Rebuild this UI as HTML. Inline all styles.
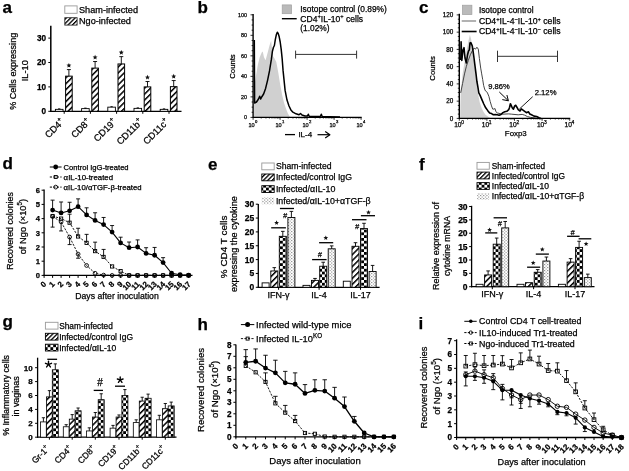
<!DOCTYPE html>
<html><head><meta charset="utf-8"><style>
html,body{margin:0;padding:0;background:#fff;}
svg{display:block;font-family:"Liberation Sans", sans-serif;filter:grayscale(1);}
text{stroke:#000;stroke-width:0.25px;}
</style></head><body>
<svg width="629" height="471" viewBox="0 0 629 471">
<defs>
<pattern id="hatch" patternUnits="userSpaceOnUse" width="4.2" height="4.2" patternTransform="rotate(45)">
<rect width="4.2" height="4.2" fill="#fff"/><rect x="0" y="0" width="1.5" height="4.2" fill="#000"/></pattern>
<pattern id="hatchL" patternUnits="userSpaceOnUse" width="3.1" height="3.1" patternTransform="rotate(45)">
<rect width="3.1" height="3.1" fill="#fff"/><rect x="0" y="0" width="1.3" height="3.1" fill="#000"/></pattern>
<pattern id="check" patternUnits="userSpaceOnUse" width="5.6" height="5.6">
<rect width="5.6" height="5.6" fill="#fff"/><rect width="2.8" height="2.8" fill="#000"/><rect x="2.8" y="2.8" width="2.8" height="2.8" fill="#000"/></pattern>
<pattern id="dots" patternUnits="userSpaceOnUse" width="3.2" height="3.0">
<rect width="3.2" height="3.0" fill="#fff"/><rect x="0" y="0" width="1.1" height="1.1" fill="#8a8a8a"/><rect x="1.6" y="1.5" width="1.1" height="1.1" fill="#8a8a8a"/></pattern>
</defs>
<rect width="629" height="471" fill="#fff"/>
<text x="2.60" y="12.50" font-size="17" text-anchor="start" font-weight="bold">a</text>
<rect x="64.80" y="5.90" width="12.30" height="7.40" fill="#fff" stroke="#999" stroke-width="0.9"/>
<text x="79.00" y="12.60" font-size="8.8" text-anchor="start" textLength="59.00" lengthAdjust="spacingAndGlyphs">Sham-infected</text>
<rect x="64.80" y="17.70" width="12.30" height="7.40" fill="url(#hatchL)" stroke="#333" stroke-width="0.9"/>
<text x="79.00" y="24.30" font-size="8.8" text-anchor="start" textLength="51.80" lengthAdjust="spacingAndGlyphs">Ngo-infected</text>
<line x1="50.80" y1="25.80" x2="50.80" y2="111.90" stroke="#000" stroke-width="1.5"/>
<line x1="50.20" y1="111.30" x2="181.50" y2="111.30" stroke="#000" stroke-width="1.3"/>
<line x1="48.30" y1="111.30" x2="50.80" y2="111.30" stroke="#000" stroke-width="1"/>
<text x="46.00" y="114.20" font-size="8.2" text-anchor="end" font-weight="bold">0</text>
<line x1="48.30" y1="86.90" x2="50.80" y2="86.90" stroke="#000" stroke-width="1"/>
<text x="46.00" y="89.80" font-size="8.2" text-anchor="end" font-weight="bold">10</text>
<line x1="48.30" y1="62.50" x2="50.80" y2="62.50" stroke="#000" stroke-width="1"/>
<text x="46.00" y="65.40" font-size="8.2" text-anchor="end" font-weight="bold">20</text>
<line x1="48.30" y1="38.10" x2="50.80" y2="38.10" stroke="#000" stroke-width="1"/>
<text x="46.00" y="41.00" font-size="8.2" text-anchor="end" font-weight="bold">30</text>
<line x1="64.20" y1="111.30" x2="64.20" y2="113.80" stroke="#000" stroke-width="1"/>
<rect x="55.40" y="109.35" width="7.60" height="1.95" fill="#fff" stroke="#000" stroke-width="0.9"/>
<line x1="59.20" y1="109.35" x2="59.20" y2="108.75" stroke="#000" stroke-width="0.7"/>
<line x1="58.00" y1="108.75" x2="60.40" y2="108.75" stroke="#000" stroke-width="0.7"/>
<rect x="65.60" y="76.16" width="6.60" height="35.14" fill="url(#hatch)" stroke="#000" stroke-width="1"/>
<line x1="68.90" y1="76.16" x2="68.90" y2="69.58" stroke="#000" stroke-width="0.9"/>
<line x1="66.90" y1="69.58" x2="70.90" y2="69.58" stroke="#000" stroke-width="0.9"/>
<polygon points="68.90,62.88 69.59,64.53 71.37,64.67 70.01,65.84 70.43,67.58 68.90,66.65 67.37,67.58 67.79,65.84 66.43,64.67 68.21,64.53" fill="#111" stroke="none" stroke-width="0"/>
<text x="64.70" y="122.50" font-size="9.4" text-anchor="end" transform="rotate(-45 64.70 122.50)">CD4<tspan font-size="6.5" dy="-4">+</tspan></text>
<line x1="90.40" y1="111.30" x2="90.40" y2="113.80" stroke="#000" stroke-width="1"/>
<rect x="81.60" y="108.62" width="7.60" height="2.68" fill="#fff" stroke="#000" stroke-width="0.9"/>
<line x1="85.40" y1="108.62" x2="85.40" y2="108.02" stroke="#000" stroke-width="0.7"/>
<line x1="84.20" y1="108.02" x2="86.60" y2="108.02" stroke="#000" stroke-width="0.7"/>
<rect x="91.80" y="68.11" width="6.60" height="43.19" fill="url(#hatch)" stroke="#000" stroke-width="1"/>
<line x1="95.10" y1="68.11" x2="95.10" y2="61.52" stroke="#000" stroke-width="0.9"/>
<line x1="93.10" y1="61.52" x2="97.10" y2="61.52" stroke="#000" stroke-width="0.9"/>
<polygon points="95.10,54.82 95.79,56.48 97.57,56.62 96.21,57.79 96.63,59.53 95.10,58.59 93.57,59.53 93.99,57.79 92.63,56.62 94.41,56.48" fill="#111" stroke="none" stroke-width="0"/>
<text x="90.90" y="122.50" font-size="9.4" text-anchor="end" transform="rotate(-45 90.90 122.50)">CD8<tspan font-size="6.5" dy="-4">+</tspan></text>
<line x1="116.60" y1="111.30" x2="116.60" y2="113.80" stroke="#000" stroke-width="1"/>
<rect x="107.80" y="107.15" width="7.60" height="4.15" fill="#fff" stroke="#000" stroke-width="0.9"/>
<line x1="111.60" y1="107.15" x2="111.60" y2="106.55" stroke="#000" stroke-width="0.7"/>
<line x1="110.40" y1="106.55" x2="112.80" y2="106.55" stroke="#000" stroke-width="0.7"/>
<rect x="118.00" y="63.96" width="6.60" height="47.34" fill="url(#hatch)" stroke="#000" stroke-width="1"/>
<line x1="121.30" y1="63.96" x2="121.30" y2="56.64" stroke="#000" stroke-width="0.9"/>
<line x1="119.30" y1="56.64" x2="123.30" y2="56.64" stroke="#000" stroke-width="0.9"/>
<polygon points="121.30,49.94 121.99,51.60 123.77,51.74 122.41,52.91 122.83,54.65 121.30,53.71 119.77,54.65 120.19,52.91 118.83,51.74 120.61,51.60" fill="#111" stroke="none" stroke-width="0"/>
<text x="117.10" y="122.50" font-size="9.4" text-anchor="end" transform="rotate(-45 117.10 122.50)">CD19<tspan font-size="6.5" dy="-4">+</tspan></text>
<line x1="142.80" y1="111.30" x2="142.80" y2="113.80" stroke="#000" stroke-width="1"/>
<rect x="134.00" y="108.37" width="7.60" height="2.93" fill="#fff" stroke="#000" stroke-width="0.9"/>
<line x1="137.80" y1="108.37" x2="137.80" y2="107.77" stroke="#000" stroke-width="0.7"/>
<line x1="136.60" y1="107.77" x2="139.00" y2="107.77" stroke="#000" stroke-width="0.7"/>
<rect x="144.20" y="86.90" width="6.60" height="24.40" fill="url(#hatch)" stroke="#000" stroke-width="1"/>
<line x1="147.50" y1="86.90" x2="147.50" y2="81.53" stroke="#000" stroke-width="0.9"/>
<line x1="145.50" y1="81.53" x2="149.50" y2="81.53" stroke="#000" stroke-width="0.9"/>
<polygon points="147.50,74.83 148.19,76.49 149.97,76.63 148.61,77.79 149.03,79.54 147.50,78.60 145.97,79.54 146.39,77.79 145.03,76.63 146.81,76.49" fill="#111" stroke="none" stroke-width="0"/>
<text x="143.30" y="122.50" font-size="9.4" text-anchor="end" transform="rotate(-45 143.30 122.50)">CD11b<tspan font-size="6.5" dy="-4">+</tspan></text>
<line x1="169.00" y1="111.30" x2="169.00" y2="113.80" stroke="#000" stroke-width="1"/>
<rect x="160.20" y="109.35" width="7.60" height="1.95" fill="#fff" stroke="#000" stroke-width="0.9"/>
<line x1="164.00" y1="109.35" x2="164.00" y2="108.75" stroke="#000" stroke-width="0.7"/>
<line x1="162.80" y1="108.75" x2="165.20" y2="108.75" stroke="#000" stroke-width="0.7"/>
<rect x="170.40" y="86.66" width="6.60" height="24.64" fill="url(#hatch)" stroke="#000" stroke-width="1"/>
<line x1="173.70" y1="86.66" x2="173.70" y2="80.56" stroke="#000" stroke-width="0.9"/>
<line x1="171.70" y1="80.56" x2="175.70" y2="80.56" stroke="#000" stroke-width="0.9"/>
<polygon points="173.70,73.86 174.39,75.51 176.17,75.65 174.81,76.82 175.23,78.56 173.70,77.63 172.17,78.56 172.59,76.82 171.23,75.65 173.01,75.51" fill="#111" stroke="none" stroke-width="0"/>
<text x="169.50" y="122.50" font-size="9.4" text-anchor="end" transform="rotate(-45 169.50 122.50)">CD11c<tspan font-size="6.5" dy="-4">+</tspan></text>
<text x="16.50" y="71.30" font-size="9" text-anchor="middle" transform="rotate(-90 16.50 71.30)" textLength="77.00" lengthAdjust="spacingAndGlyphs">% Cells expressing</text>
<text x="27.80" y="70.70" font-size="9" text-anchor="middle" transform="rotate(-90 27.80 70.70)" textLength="21.00" lengthAdjust="spacingAndGlyphs">IL-10</text>
<text x="197.40" y="12.50" font-size="17" text-anchor="start" font-weight="bold">b</text>
<polygon points="254.00,117.40 254.20,90.00 255.00,82.00 255.80,76.70 257.80,65.00 259.70,57.20 261.70,52.40 262.70,51.40 264.00,57.20 265.60,60.20 267.50,53.30 269.50,45.50 271.10,40.70 272.00,48.00 273.00,56.30 274.40,58.20 276.30,62.10 278.30,72.80 280.20,84.50 282.20,95.20 284.10,103.00 286.10,108.90 288.00,113.80 290.00,116.70 291.00,117.40" fill="#d0d0d0" stroke="none" stroke-width="0"/>
<line x1="250.50" y1="117.40" x2="253.10" y2="117.40" stroke="#000" stroke-width="0.8"/>
<text x="247.10" y="119.34" font-size="5.4" text-anchor="end">0</text>
<line x1="251.60" y1="112.27" x2="253.10" y2="112.27" stroke="#000" stroke-width="0.8"/>
<line x1="251.60" y1="107.14" x2="253.10" y2="107.14" stroke="#000" stroke-width="0.8"/>
<line x1="251.60" y1="102.01" x2="253.10" y2="102.01" stroke="#000" stroke-width="0.8"/>
<line x1="250.50" y1="96.88" x2="253.10" y2="96.88" stroke="#000" stroke-width="0.8"/>
<text x="247.10" y="98.82" font-size="5.4" text-anchor="end">20</text>
<line x1="251.60" y1="91.75" x2="253.10" y2="91.75" stroke="#000" stroke-width="0.8"/>
<line x1="251.60" y1="86.62" x2="253.10" y2="86.62" stroke="#000" stroke-width="0.8"/>
<line x1="251.60" y1="81.49" x2="253.10" y2="81.49" stroke="#000" stroke-width="0.8"/>
<line x1="250.50" y1="76.36" x2="253.10" y2="76.36" stroke="#000" stroke-width="0.8"/>
<text x="247.10" y="78.30" font-size="5.4" text-anchor="end">40</text>
<line x1="251.60" y1="71.23" x2="253.10" y2="71.23" stroke="#000" stroke-width="0.8"/>
<line x1="251.60" y1="66.10" x2="253.10" y2="66.10" stroke="#000" stroke-width="0.8"/>
<line x1="251.60" y1="60.97" x2="253.10" y2="60.97" stroke="#000" stroke-width="0.8"/>
<line x1="250.50" y1="55.84" x2="253.10" y2="55.84" stroke="#000" stroke-width="0.8"/>
<text x="247.10" y="57.78" font-size="5.4" text-anchor="end">60</text>
<line x1="251.60" y1="50.71" x2="253.10" y2="50.71" stroke="#000" stroke-width="0.8"/>
<line x1="251.60" y1="45.58" x2="253.10" y2="45.58" stroke="#000" stroke-width="0.8"/>
<line x1="251.60" y1="40.45" x2="253.10" y2="40.45" stroke="#000" stroke-width="0.8"/>
<line x1="250.50" y1="35.32" x2="253.10" y2="35.32" stroke="#000" stroke-width="0.8"/>
<text x="247.10" y="37.26" font-size="5.4" text-anchor="end">80</text>
<line x1="251.60" y1="30.19" x2="253.10" y2="30.19" stroke="#000" stroke-width="0.8"/>
<line x1="251.60" y1="25.06" x2="253.10" y2="25.06" stroke="#000" stroke-width="0.8"/>
<line x1="251.60" y1="19.93" x2="253.10" y2="19.93" stroke="#000" stroke-width="0.8"/>
<line x1="250.50" y1="14.80" x2="253.10" y2="14.80" stroke="#000" stroke-width="0.8"/>
<text x="247.10" y="16.74" font-size="5.4" text-anchor="end">100</text>
<line x1="253.10" y1="14.00" x2="253.10" y2="117.90" stroke="#000" stroke-width="1.4"/>
<line x1="253.10" y1="117.40" x2="361.70" y2="117.40" stroke="#000" stroke-width="1.1"/>
<line x1="253.10" y1="117.40" x2="253.10" y2="119.80" stroke="#000" stroke-width="0.8"/>
<text x="251.60" y="126.70" font-size="5.6" text-anchor="middle">10</text>
<text x="255.00" y="122.70" font-size="4.199999999999999" text-anchor="start">0</text>
<line x1="261.23" y1="117.40" x2="261.23" y2="118.70" stroke="#000" stroke-width="0.6"/>
<line x1="265.98" y1="117.40" x2="265.98" y2="118.70" stroke="#000" stroke-width="0.6"/>
<line x1="269.36" y1="117.40" x2="269.36" y2="118.70" stroke="#000" stroke-width="0.6"/>
<line x1="271.97" y1="117.40" x2="271.97" y2="118.70" stroke="#000" stroke-width="0.6"/>
<line x1="274.11" y1="117.40" x2="274.11" y2="118.70" stroke="#000" stroke-width="0.6"/>
<line x1="275.92" y1="117.40" x2="275.92" y2="118.70" stroke="#000" stroke-width="0.6"/>
<line x1="277.48" y1="117.40" x2="277.48" y2="118.70" stroke="#000" stroke-width="0.6"/>
<line x1="278.86" y1="117.40" x2="278.86" y2="118.70" stroke="#000" stroke-width="0.6"/>
<line x1="280.10" y1="117.40" x2="280.10" y2="119.80" stroke="#000" stroke-width="0.8"/>
<text x="278.60" y="126.70" font-size="5.6" text-anchor="middle">10</text>
<text x="282.00" y="122.70" font-size="4.199999999999999" text-anchor="start">1</text>
<line x1="288.23" y1="117.40" x2="288.23" y2="118.70" stroke="#000" stroke-width="0.6"/>
<line x1="292.98" y1="117.40" x2="292.98" y2="118.70" stroke="#000" stroke-width="0.6"/>
<line x1="296.36" y1="117.40" x2="296.36" y2="118.70" stroke="#000" stroke-width="0.6"/>
<line x1="298.97" y1="117.40" x2="298.97" y2="118.70" stroke="#000" stroke-width="0.6"/>
<line x1="301.11" y1="117.40" x2="301.11" y2="118.70" stroke="#000" stroke-width="0.6"/>
<line x1="302.92" y1="117.40" x2="302.92" y2="118.70" stroke="#000" stroke-width="0.6"/>
<line x1="304.48" y1="117.40" x2="304.48" y2="118.70" stroke="#000" stroke-width="0.6"/>
<line x1="305.86" y1="117.40" x2="305.86" y2="118.70" stroke="#000" stroke-width="0.6"/>
<line x1="307.10" y1="117.40" x2="307.10" y2="119.80" stroke="#000" stroke-width="0.8"/>
<text x="305.60" y="126.70" font-size="5.6" text-anchor="middle">10</text>
<text x="309.00" y="122.70" font-size="4.199999999999999" text-anchor="start">2</text>
<line x1="315.23" y1="117.40" x2="315.23" y2="118.70" stroke="#000" stroke-width="0.6"/>
<line x1="319.98" y1="117.40" x2="319.98" y2="118.70" stroke="#000" stroke-width="0.6"/>
<line x1="323.36" y1="117.40" x2="323.36" y2="118.70" stroke="#000" stroke-width="0.6"/>
<line x1="325.97" y1="117.40" x2="325.97" y2="118.70" stroke="#000" stroke-width="0.6"/>
<line x1="328.11" y1="117.40" x2="328.11" y2="118.70" stroke="#000" stroke-width="0.6"/>
<line x1="329.92" y1="117.40" x2="329.92" y2="118.70" stroke="#000" stroke-width="0.6"/>
<line x1="331.48" y1="117.40" x2="331.48" y2="118.70" stroke="#000" stroke-width="0.6"/>
<line x1="332.86" y1="117.40" x2="332.86" y2="118.70" stroke="#000" stroke-width="0.6"/>
<line x1="334.10" y1="117.40" x2="334.10" y2="119.80" stroke="#000" stroke-width="0.8"/>
<text x="332.60" y="126.70" font-size="5.6" text-anchor="middle">10</text>
<text x="336.00" y="122.70" font-size="4.199999999999999" text-anchor="start">3</text>
<line x1="342.23" y1="117.40" x2="342.23" y2="118.70" stroke="#000" stroke-width="0.6"/>
<line x1="346.98" y1="117.40" x2="346.98" y2="118.70" stroke="#000" stroke-width="0.6"/>
<line x1="350.36" y1="117.40" x2="350.36" y2="118.70" stroke="#000" stroke-width="0.6"/>
<line x1="352.97" y1="117.40" x2="352.97" y2="118.70" stroke="#000" stroke-width="0.6"/>
<line x1="355.11" y1="117.40" x2="355.11" y2="118.70" stroke="#000" stroke-width="0.6"/>
<line x1="356.92" y1="117.40" x2="356.92" y2="118.70" stroke="#000" stroke-width="0.6"/>
<line x1="358.48" y1="117.40" x2="358.48" y2="118.70" stroke="#000" stroke-width="0.6"/>
<line x1="359.86" y1="117.40" x2="359.86" y2="118.70" stroke="#000" stroke-width="0.6"/>
<line x1="361.10" y1="117.40" x2="361.10" y2="119.80" stroke="#000" stroke-width="0.8"/>
<text x="359.60" y="126.70" font-size="5.6" text-anchor="middle">10</text>
<text x="363.00" y="122.70" font-size="4.199999999999999" text-anchor="start">4</text>
<polyline points="254.30,40.00 254.60,103.00 256.50,102.00 258.50,99.00 259.70,96.20 260.70,99.00 261.70,97.00 263.60,94.00 265.60,88.40 267.50,80.60 269.50,70.90 271.40,59.20 272.40,51.40 273.40,47.50 274.40,45.50 275.30,39.70 276.30,34.80 277.30,32.30 278.20,33.50 279.20,36.80 280.20,42.00 281.20,49.40 282.20,59.20 283.10,70.90 284.10,80.60 285.10,90.40 287.00,100.10 289.00,106.00 290.90,109.90 292.90,112.20 296.00,113.80 299.00,114.80 300.50,113.50 302.00,115.00 305.00,116.00 307.50,116.00 308.30,114.30 309.20,116.30 314.00,116.50 320.50,116.30 321.30,114.20 322.20,116.50 330.00,116.80 340.00,117.00" fill="none" stroke="#000" stroke-width="1.5" stroke-linejoin="round"/>
<rect x="282.20" y="4.90" width="9.40" height="8.80" fill="#bababa" stroke="#a0a0a0" stroke-width="0.7"/>
<text x="300.30" y="11.90" font-size="8.4" text-anchor="start" textLength="86.50" lengthAdjust="spacingAndGlyphs">Isotope control (0.89%)</text>
<line x1="281.90" y1="18.70" x2="296.70" y2="18.70" stroke="#000" stroke-width="1.4"/>
<text x="300.30" y="21.70" font-size="8.4" text-anchor="start" textLength="62.80" lengthAdjust="spacingAndGlyphs">CD4<tspan font-size="5.6" dy="-3.4">+</tspan><tspan dy="3.4">IL-10</tspan><tspan font-size="5.6" dy="-3.4">+</tspan><tspan dy="3.4"> cells</tspan></text>
<text x="300.30" y="30.80" font-size="8.4" text-anchor="start" textLength="29.30" lengthAdjust="spacingAndGlyphs">(1.02%)</text>
<line x1="295.60" y1="54.40" x2="356.60" y2="54.40" stroke="#333" stroke-width="1.0"/>
<line x1="295.60" y1="50.60" x2="295.60" y2="58.60" stroke="#333" stroke-width="1.0"/>
<line x1="356.60" y1="50.60" x2="356.60" y2="58.60" stroke="#333" stroke-width="1.0"/>
<line x1="285.00" y1="134.60" x2="295.00" y2="134.60" stroke="#000" stroke-width="1.3"/>
<text x="298.40" y="137.40" font-size="8" text-anchor="start" textLength="13.80" lengthAdjust="spacingAndGlyphs">IL-4</text>
<line x1="317.50" y1="134.70" x2="329.60" y2="134.70" stroke="#000" stroke-width="1.2"/>
<polyline points="325.20,131.50 329.90,134.70 325.20,137.90" fill="none" stroke="#000" stroke-width="1.2" stroke-linejoin="round"/>
<text x="235.30" y="66.50" font-size="7.8" text-anchor="middle" transform="rotate(-90 235.30 66.50)" textLength="24.50" lengthAdjust="spacingAndGlyphs">Counts</text>
<text x="418.90" y="12.50" font-size="17" text-anchor="start" font-weight="bold">c</text>
<polygon points="460.15,118.10 460.34,106.28 460.72,92.93 462.63,73.86 464.53,62.42 466.44,50.98 468.35,41.44 469.87,34.77 471.21,39.53 472.16,47.16 474.07,62.42 475.98,79.58 477.88,92.93 479.79,102.46 481.70,108.18 483.60,112.00 485.51,114.86 488.37,116.77 490.28,118.10" fill="#d1d1d1" stroke="none" stroke-width="0"/>
<polyline points="460.70,92.90 462.60,83.40 464.50,73.90 466.40,66.20 468.30,60.50 470.30,54.80 472.20,51.00 474.10,48.10 475.60,49.10 476.90,47.20 478.30,49.10 479.40,58.60 480.70,68.10 481.70,73.90 482.70,79.60 483.60,85.30 484.60,89.00 485.50,91.00 486.50,91.50 487.50,93.00 488.90,96.40 490.20,101.50 491.50,105.90 492.70,109.10 494.00,109.10 495.00,108.50 495.90,111.70 497.20,112.90 502.30,114.20 508.70,113.90 511.80,114.20 518.20,114.80 522.20,114.40 524.70,115.20 527.30,116.50 530.70,117.40 534.00,117.80 537.00,118.40" fill="none" stroke="#444" stroke-width="1.0" stroke-linejoin="round"/>
<line x1="456.70" y1="118.40" x2="459.30" y2="118.40" stroke="#000" stroke-width="0.8"/>
<text x="453.30" y="120.67" font-size="6.3" text-anchor="end">0</text>
<line x1="457.80" y1="114.09" x2="459.30" y2="114.09" stroke="#000" stroke-width="0.8"/>
<line x1="457.80" y1="109.78" x2="459.30" y2="109.78" stroke="#000" stroke-width="0.8"/>
<line x1="457.80" y1="105.46" x2="459.30" y2="105.46" stroke="#000" stroke-width="0.8"/>
<line x1="456.70" y1="101.15" x2="459.30" y2="101.15" stroke="#000" stroke-width="0.8"/>
<text x="453.30" y="103.42" font-size="6.3" text-anchor="end">20</text>
<line x1="457.80" y1="96.84" x2="459.30" y2="96.84" stroke="#000" stroke-width="0.8"/>
<line x1="457.80" y1="92.53" x2="459.30" y2="92.53" stroke="#000" stroke-width="0.8"/>
<line x1="457.80" y1="88.21" x2="459.30" y2="88.21" stroke="#000" stroke-width="0.8"/>
<line x1="456.70" y1="83.90" x2="459.30" y2="83.90" stroke="#000" stroke-width="0.8"/>
<text x="453.30" y="86.17" font-size="6.3" text-anchor="end">40</text>
<line x1="457.80" y1="79.59" x2="459.30" y2="79.59" stroke="#000" stroke-width="0.8"/>
<line x1="457.80" y1="75.28" x2="459.30" y2="75.28" stroke="#000" stroke-width="0.8"/>
<line x1="457.80" y1="70.96" x2="459.30" y2="70.96" stroke="#000" stroke-width="0.8"/>
<line x1="456.70" y1="66.65" x2="459.30" y2="66.65" stroke="#000" stroke-width="0.8"/>
<text x="453.30" y="68.92" font-size="6.3" text-anchor="end">60</text>
<line x1="457.80" y1="62.34" x2="459.30" y2="62.34" stroke="#000" stroke-width="0.8"/>
<line x1="457.80" y1="58.03" x2="459.30" y2="58.03" stroke="#000" stroke-width="0.8"/>
<line x1="457.80" y1="53.71" x2="459.30" y2="53.71" stroke="#000" stroke-width="0.8"/>
<line x1="456.70" y1="49.40" x2="459.30" y2="49.40" stroke="#000" stroke-width="0.8"/>
<text x="453.30" y="51.67" font-size="6.3" text-anchor="end">80</text>
<line x1="457.80" y1="45.09" x2="459.30" y2="45.09" stroke="#000" stroke-width="0.8"/>
<line x1="457.80" y1="40.78" x2="459.30" y2="40.78" stroke="#000" stroke-width="0.8"/>
<line x1="457.80" y1="36.46" x2="459.30" y2="36.46" stroke="#000" stroke-width="0.8"/>
<line x1="456.70" y1="32.15" x2="459.30" y2="32.15" stroke="#000" stroke-width="0.8"/>
<text x="453.30" y="34.42" font-size="6.3" text-anchor="end">100</text>
<line x1="457.80" y1="27.84" x2="459.30" y2="27.84" stroke="#000" stroke-width="0.8"/>
<line x1="457.80" y1="23.53" x2="459.30" y2="23.53" stroke="#000" stroke-width="0.8"/>
<line x1="457.80" y1="19.21" x2="459.30" y2="19.21" stroke="#000" stroke-width="0.8"/>
<line x1="456.70" y1="14.90" x2="459.30" y2="14.90" stroke="#000" stroke-width="0.8"/>
<text x="453.30" y="17.17" font-size="6.3" text-anchor="end">120</text>
<line x1="459.30" y1="13.70" x2="459.30" y2="118.90" stroke="#000" stroke-width="1.4"/>
<line x1="459.30" y1="118.40" x2="570.20" y2="118.40" stroke="#000" stroke-width="1.1"/>
<line x1="459.30" y1="118.40" x2="459.30" y2="120.80" stroke="#000" stroke-width="0.8"/>
<text x="457.80" y="126.50" font-size="6.6" text-anchor="middle">10</text>
<text x="461.20" y="123.60" font-size="4.949999999999999" text-anchor="start">0</text>
<line x1="467.61" y1="118.40" x2="467.61" y2="119.70" stroke="#000" stroke-width="0.6"/>
<line x1="472.47" y1="118.40" x2="472.47" y2="119.70" stroke="#000" stroke-width="0.6"/>
<line x1="475.92" y1="118.40" x2="475.92" y2="119.70" stroke="#000" stroke-width="0.6"/>
<line x1="478.59" y1="118.40" x2="478.59" y2="119.70" stroke="#000" stroke-width="0.6"/>
<line x1="480.78" y1="118.40" x2="480.78" y2="119.70" stroke="#000" stroke-width="0.6"/>
<line x1="482.62" y1="118.40" x2="482.62" y2="119.70" stroke="#000" stroke-width="0.6"/>
<line x1="484.23" y1="118.40" x2="484.23" y2="119.70" stroke="#000" stroke-width="0.6"/>
<line x1="485.64" y1="118.40" x2="485.64" y2="119.70" stroke="#000" stroke-width="0.6"/>
<line x1="486.90" y1="118.40" x2="486.90" y2="120.80" stroke="#000" stroke-width="0.8"/>
<text x="485.40" y="126.50" font-size="6.6" text-anchor="middle">10</text>
<text x="488.80" y="123.60" font-size="4.949999999999999" text-anchor="start">1</text>
<line x1="495.21" y1="118.40" x2="495.21" y2="119.70" stroke="#000" stroke-width="0.6"/>
<line x1="500.07" y1="118.40" x2="500.07" y2="119.70" stroke="#000" stroke-width="0.6"/>
<line x1="503.52" y1="118.40" x2="503.52" y2="119.70" stroke="#000" stroke-width="0.6"/>
<line x1="506.19" y1="118.40" x2="506.19" y2="119.70" stroke="#000" stroke-width="0.6"/>
<line x1="508.38" y1="118.40" x2="508.38" y2="119.70" stroke="#000" stroke-width="0.6"/>
<line x1="510.22" y1="118.40" x2="510.22" y2="119.70" stroke="#000" stroke-width="0.6"/>
<line x1="511.83" y1="118.40" x2="511.83" y2="119.70" stroke="#000" stroke-width="0.6"/>
<line x1="513.24" y1="118.40" x2="513.24" y2="119.70" stroke="#000" stroke-width="0.6"/>
<line x1="514.50" y1="118.40" x2="514.50" y2="120.80" stroke="#000" stroke-width="0.8"/>
<text x="513.00" y="126.50" font-size="6.6" text-anchor="middle">10</text>
<text x="516.40" y="123.60" font-size="4.949999999999999" text-anchor="start">2</text>
<line x1="522.81" y1="118.40" x2="522.81" y2="119.70" stroke="#000" stroke-width="0.6"/>
<line x1="527.67" y1="118.40" x2="527.67" y2="119.70" stroke="#000" stroke-width="0.6"/>
<line x1="531.12" y1="118.40" x2="531.12" y2="119.70" stroke="#000" stroke-width="0.6"/>
<line x1="533.79" y1="118.40" x2="533.79" y2="119.70" stroke="#000" stroke-width="0.6"/>
<line x1="535.98" y1="118.40" x2="535.98" y2="119.70" stroke="#000" stroke-width="0.6"/>
<line x1="537.82" y1="118.40" x2="537.82" y2="119.70" stroke="#000" stroke-width="0.6"/>
<line x1="539.43" y1="118.40" x2="539.43" y2="119.70" stroke="#000" stroke-width="0.6"/>
<line x1="540.84" y1="118.40" x2="540.84" y2="119.70" stroke="#000" stroke-width="0.6"/>
<line x1="542.10" y1="118.40" x2="542.10" y2="120.80" stroke="#000" stroke-width="0.8"/>
<text x="540.60" y="126.50" font-size="6.6" text-anchor="middle">10</text>
<text x="544.00" y="123.60" font-size="4.949999999999999" text-anchor="start">3</text>
<line x1="550.41" y1="118.40" x2="550.41" y2="119.70" stroke="#000" stroke-width="0.6"/>
<line x1="555.27" y1="118.40" x2="555.27" y2="119.70" stroke="#000" stroke-width="0.6"/>
<line x1="558.72" y1="118.40" x2="558.72" y2="119.70" stroke="#000" stroke-width="0.6"/>
<line x1="561.39" y1="118.40" x2="561.39" y2="119.70" stroke="#000" stroke-width="0.6"/>
<line x1="563.58" y1="118.40" x2="563.58" y2="119.70" stroke="#000" stroke-width="0.6"/>
<line x1="565.42" y1="118.40" x2="565.42" y2="119.70" stroke="#000" stroke-width="0.6"/>
<line x1="567.03" y1="118.40" x2="567.03" y2="119.70" stroke="#000" stroke-width="0.6"/>
<line x1="568.44" y1="118.40" x2="568.44" y2="119.70" stroke="#000" stroke-width="0.6"/>
<line x1="569.70" y1="118.40" x2="569.70" y2="120.80" stroke="#000" stroke-width="0.8"/>
<text x="568.20" y="126.50" font-size="6.6" text-anchor="middle">10</text>
<text x="571.60" y="123.60" font-size="4.949999999999999" text-anchor="start">4</text>
<polyline points="460.80,60.00 461.10,41.80 461.80,60.50 463.00,50.00 464.00,47.70 465.00,58.00 466.30,63.00 467.50,55.00 468.50,51.00 469.30,50.00 470.00,43.00 470.80,42.60 471.50,44.00 472.30,46.00 473.20,52.00 474.00,58.00 475.00,66.00 476.00,73.90 476.90,81.50 477.90,87.20 478.80,92.90 480.00,95.10 481.90,99.60 483.80,104.00 485.70,107.80 487.60,110.40 489.60,112.90 491.50,113.60 493.40,114.80 495.30,114.50 497.20,114.80 499.10,115.20 501.00,114.50 502.90,112.60 504.80,111.70 506.80,111.30 508.70,109.70 509.60,107.20 510.40,103.70 511.20,105.30 512.20,107.80 513.40,109.10 514.70,105.90 515.70,105.30 516.90,107.20 518.20,109.70 520.00,111.00 521.30,108.90 523.00,110.10 524.70,111.40 526.40,112.70 528.50,111.80 529.80,114.00 531.50,114.80 534.00,116.10 536.60,116.50 539.10,117.80 541.00,118.40" fill="none" stroke="#000" stroke-width="1.6" stroke-linejoin="round"/>
<text x="515.80" y="135.60" font-size="7.8" text-anchor="middle" textLength="21.90" lengthAdjust="spacingAndGlyphs">Foxp3</text>
<text x="435.20" y="68.40" font-size="7.8" text-anchor="middle" transform="rotate(-90 435.20 68.40)" textLength="24.50" lengthAdjust="spacingAndGlyphs">Counts</text>
<rect x="462.40" y="5.20" width="9.50" height="9.40" fill="#bababa" stroke="#a0a0a0" stroke-width="0.7"/>
<text x="478.90" y="12.60" font-size="8.4" text-anchor="start" textLength="54.60" lengthAdjust="spacingAndGlyphs">Isotope control</text>
<line x1="461.70" y1="21.00" x2="476.10" y2="21.00" stroke="#888" stroke-width="1.3"/>
<text x="478.90" y="24.00" font-size="8.4" text-anchor="start" textLength="81.70" lengthAdjust="spacingAndGlyphs">CD4<tspan font-size="5.6" dy="-3.4">+</tspan><tspan dy="3.4">IL-4</tspan><tspan font-size="5.6" dy="-3.4">&#x2212;</tspan><tspan dy="3.4">IL-10</tspan><tspan font-size="5.6" dy="-3.4">+</tspan><tspan dy="3.4"> cells</tspan></text>
<line x1="461.70" y1="31.50" x2="476.60" y2="31.50" stroke="#000" stroke-width="1.6"/>
<text x="478.90" y="34.10" font-size="8.4" text-anchor="start" textLength="81.70" lengthAdjust="spacingAndGlyphs">CD4<tspan font-size="5.6" dy="-3.4">+</tspan><tspan dy="3.4">IL-4</tspan><tspan font-size="5.6" dy="-3.4">&#x2212;</tspan><tspan dy="3.4">IL-10</tspan><tspan font-size="5.6" dy="-3.4">&#x2212;</tspan><tspan dy="3.4"> cells</tspan></text>
<line x1="497.50" y1="56.30" x2="557.50" y2="56.30" stroke="#333" stroke-width="1.0"/>
<line x1="497.50" y1="50.70" x2="497.50" y2="62.00" stroke="#333" stroke-width="1.0"/>
<line x1="557.50" y1="50.70" x2="557.50" y2="62.00" stroke="#333" stroke-width="1.0"/>
<text x="488.20" y="89.00" font-size="7.9" text-anchor="start" textLength="21.50" lengthAdjust="spacingAndGlyphs">9.86%</text>
<text x="534.70" y="95.20" font-size="7.9" text-anchor="start" textLength="21.80" lengthAdjust="spacingAndGlyphs">2.12%</text>
<line x1="499.30" y1="92.00" x2="508.20" y2="100.60" stroke="#000" stroke-width="1.0"/>
<polyline points="502.30,99.60 508.40,100.80 506.90,95.00" fill="none" stroke="#000" stroke-width="1.0" stroke-linejoin="round"/>
<line x1="532.70" y1="96.70" x2="519.40" y2="109.00" stroke="#000" stroke-width="0.9"/>
<text x="2.60" y="169.00" font-size="17" text-anchor="start" font-weight="bold">d</text>
<line x1="44.10" y1="189.50" x2="44.10" y2="276.00" stroke="#000" stroke-width="1.3"/>
<line x1="43.50" y1="275.40" x2="192.50" y2="275.40" stroke="#000" stroke-width="1.3"/>
<line x1="41.60" y1="275.40" x2="44.10" y2="275.40" stroke="#000" stroke-width="1"/>
<text x="40.10" y="278.10" font-size="7.6" text-anchor="end" font-weight="bold">0</text>
<line x1="41.60" y1="261.20" x2="44.10" y2="261.20" stroke="#000" stroke-width="1"/>
<text x="40.10" y="263.90" font-size="7.6" text-anchor="end" font-weight="bold">1</text>
<line x1="41.60" y1="247.00" x2="44.10" y2="247.00" stroke="#000" stroke-width="1"/>
<text x="40.10" y="249.70" font-size="7.6" text-anchor="end" font-weight="bold">2</text>
<line x1="41.60" y1="232.80" x2="44.10" y2="232.80" stroke="#000" stroke-width="1"/>
<text x="40.10" y="235.50" font-size="7.6" text-anchor="end" font-weight="bold">3</text>
<line x1="41.60" y1="218.60" x2="44.10" y2="218.60" stroke="#000" stroke-width="1"/>
<text x="40.10" y="221.30" font-size="7.6" text-anchor="end" font-weight="bold">4</text>
<line x1="41.60" y1="204.40" x2="44.10" y2="204.40" stroke="#000" stroke-width="1"/>
<text x="40.10" y="207.10" font-size="7.6" text-anchor="end" font-weight="bold">5</text>
<line x1="41.60" y1="190.20" x2="44.10" y2="190.20" stroke="#000" stroke-width="1"/>
<text x="40.10" y="192.90" font-size="7.6" text-anchor="end" font-weight="bold">6</text>
<line x1="44.10" y1="275.40" x2="44.10" y2="277.90" stroke="#000" stroke-width="1"/>
<text x="46.80" y="284.60" font-size="7.8" text-anchor="end" font-weight="bold" transform="rotate(-45 46.80 284.60)">0</text>
<line x1="52.60" y1="275.40" x2="52.60" y2="277.90" stroke="#000" stroke-width="1"/>
<text x="55.30" y="284.60" font-size="7.8" text-anchor="end" font-weight="bold" transform="rotate(-45 55.30 284.60)">1</text>
<line x1="61.10" y1="275.40" x2="61.10" y2="277.90" stroke="#000" stroke-width="1"/>
<text x="63.80" y="284.60" font-size="7.8" text-anchor="end" font-weight="bold" transform="rotate(-45 63.80 284.60)">2</text>
<line x1="69.60" y1="275.40" x2="69.60" y2="277.90" stroke="#000" stroke-width="1"/>
<text x="72.30" y="284.60" font-size="7.8" text-anchor="end" font-weight="bold" transform="rotate(-45 72.30 284.60)">3</text>
<line x1="78.10" y1="275.40" x2="78.10" y2="277.90" stroke="#000" stroke-width="1"/>
<text x="80.80" y="284.60" font-size="7.8" text-anchor="end" font-weight="bold" transform="rotate(-45 80.80 284.60)">4</text>
<line x1="86.60" y1="275.40" x2="86.60" y2="277.90" stroke="#000" stroke-width="1"/>
<text x="89.30" y="284.60" font-size="7.8" text-anchor="end" font-weight="bold" transform="rotate(-45 89.30 284.60)">5</text>
<line x1="95.10" y1="275.40" x2="95.10" y2="277.90" stroke="#000" stroke-width="1"/>
<text x="97.80" y="284.60" font-size="7.8" text-anchor="end" font-weight="bold" transform="rotate(-45 97.80 284.60)">6</text>
<line x1="103.60" y1="275.40" x2="103.60" y2="277.90" stroke="#000" stroke-width="1"/>
<text x="106.30" y="284.60" font-size="7.8" text-anchor="end" font-weight="bold" transform="rotate(-45 106.30 284.60)">7</text>
<line x1="112.10" y1="275.40" x2="112.10" y2="277.90" stroke="#000" stroke-width="1"/>
<text x="114.80" y="284.60" font-size="7.8" text-anchor="end" font-weight="bold" transform="rotate(-45 114.80 284.60)">8</text>
<line x1="120.60" y1="275.40" x2="120.60" y2="277.90" stroke="#000" stroke-width="1"/>
<text x="123.30" y="284.60" font-size="7.8" text-anchor="end" font-weight="bold" transform="rotate(-45 123.30 284.60)">9</text>
<line x1="129.10" y1="275.40" x2="129.10" y2="277.90" stroke="#000" stroke-width="1"/>
<text x="131.80" y="284.60" font-size="7.8" text-anchor="end" font-weight="bold" transform="rotate(-45 131.80 284.60)">10</text>
<line x1="137.60" y1="275.40" x2="137.60" y2="277.90" stroke="#000" stroke-width="1"/>
<text x="140.30" y="284.60" font-size="7.8" text-anchor="end" font-weight="bold" transform="rotate(-45 140.30 284.60)">11</text>
<line x1="146.10" y1="275.40" x2="146.10" y2="277.90" stroke="#000" stroke-width="1"/>
<text x="148.80" y="284.60" font-size="7.8" text-anchor="end" font-weight="bold" transform="rotate(-45 148.80 284.60)">12</text>
<line x1="154.60" y1="275.40" x2="154.60" y2="277.90" stroke="#000" stroke-width="1"/>
<text x="157.30" y="284.60" font-size="7.8" text-anchor="end" font-weight="bold" transform="rotate(-45 157.30 284.60)">13</text>
<line x1="163.10" y1="275.40" x2="163.10" y2="277.90" stroke="#000" stroke-width="1"/>
<text x="165.80" y="284.60" font-size="7.8" text-anchor="end" font-weight="bold" transform="rotate(-45 165.80 284.60)">14</text>
<line x1="171.60" y1="275.40" x2="171.60" y2="277.90" stroke="#000" stroke-width="1"/>
<text x="174.30" y="284.60" font-size="7.8" text-anchor="end" font-weight="bold" transform="rotate(-45 174.30 284.60)">15</text>
<line x1="180.10" y1="275.40" x2="180.10" y2="277.90" stroke="#000" stroke-width="1"/>
<text x="182.80" y="284.60" font-size="7.8" text-anchor="end" font-weight="bold" transform="rotate(-45 182.80 284.60)">16</text>
<line x1="188.60" y1="275.40" x2="188.60" y2="277.90" stroke="#000" stroke-width="1"/>
<text x="191.30" y="284.60" font-size="7.8" text-anchor="end" font-weight="bold" transform="rotate(-45 191.30 284.60)">17</text>
<line x1="52.60" y1="210.08" x2="52.60" y2="200.14" stroke="#000" stroke-width="0.9"/>
<line x1="50.60" y1="200.14" x2="54.60" y2="200.14" stroke="#000" stroke-width="0.9"/>
<line x1="61.10" y1="212.92" x2="61.10" y2="201.99" stroke="#000" stroke-width="0.9"/>
<line x1="59.10" y1="201.99" x2="63.10" y2="201.99" stroke="#000" stroke-width="0.9"/>
<line x1="69.60" y1="210.79" x2="69.60" y2="202.27" stroke="#000" stroke-width="0.9"/>
<line x1="67.60" y1="202.27" x2="71.60" y2="202.27" stroke="#000" stroke-width="0.9"/>
<line x1="78.10" y1="206.67" x2="78.10" y2="198.86" stroke="#000" stroke-width="0.9"/>
<line x1="76.10" y1="198.86" x2="80.10" y2="198.86" stroke="#000" stroke-width="0.9"/>
<line x1="86.60" y1="214.91" x2="86.60" y2="207.81" stroke="#000" stroke-width="0.9"/>
<line x1="84.60" y1="207.81" x2="88.60" y2="207.81" stroke="#000" stroke-width="0.9"/>
<line x1="95.10" y1="220.45" x2="95.10" y2="212.78" stroke="#000" stroke-width="0.9"/>
<line x1="93.10" y1="212.78" x2="97.10" y2="212.78" stroke="#000" stroke-width="0.9"/>
<line x1="103.60" y1="224.56" x2="103.60" y2="217.46" stroke="#000" stroke-width="0.9"/>
<line x1="101.60" y1="217.46" x2="105.60" y2="217.46" stroke="#000" stroke-width="0.9"/>
<line x1="112.10" y1="232.09" x2="112.10" y2="225.56" stroke="#000" stroke-width="0.9"/>
<line x1="110.10" y1="225.56" x2="114.10" y2="225.56" stroke="#000" stroke-width="0.9"/>
<line x1="120.60" y1="242.88" x2="120.60" y2="237.20" stroke="#000" stroke-width="0.9"/>
<line x1="118.60" y1="237.20" x2="122.60" y2="237.20" stroke="#000" stroke-width="0.9"/>
<line x1="129.10" y1="247.71" x2="129.10" y2="242.03" stroke="#000" stroke-width="0.9"/>
<line x1="127.10" y1="242.03" x2="131.10" y2="242.03" stroke="#000" stroke-width="0.9"/>
<line x1="137.60" y1="247.00" x2="137.60" y2="239.90" stroke="#000" stroke-width="0.9"/>
<line x1="135.60" y1="239.90" x2="139.60" y2="239.90" stroke="#000" stroke-width="0.9"/>
<line x1="146.10" y1="253.39" x2="146.10" y2="247.71" stroke="#000" stroke-width="0.9"/>
<line x1="144.10" y1="247.71" x2="148.10" y2="247.71" stroke="#000" stroke-width="0.9"/>
<line x1="154.60" y1="255.24" x2="154.60" y2="247.43" stroke="#000" stroke-width="0.9"/>
<line x1="152.60" y1="247.43" x2="156.60" y2="247.43" stroke="#000" stroke-width="0.9"/>
<line x1="163.10" y1="262.62" x2="163.10" y2="257.65" stroke="#000" stroke-width="0.9"/>
<line x1="161.10" y1="257.65" x2="165.10" y2="257.65" stroke="#000" stroke-width="0.9"/>
<line x1="69.60" y1="222.72" x2="69.60" y2="214.20" stroke="#000" stroke-width="0.9"/>
<line x1="67.60" y1="214.20" x2="71.60" y2="214.20" stroke="#000" stroke-width="0.9"/>
<line x1="78.10" y1="236.49" x2="78.10" y2="228.26" stroke="#000" stroke-width="0.9"/>
<line x1="76.10" y1="228.26" x2="80.10" y2="228.26" stroke="#000" stroke-width="0.9"/>
<line x1="86.60" y1="242.88" x2="86.60" y2="234.36" stroke="#000" stroke-width="0.9"/>
<line x1="84.60" y1="234.36" x2="88.60" y2="234.36" stroke="#000" stroke-width="0.9"/>
<line x1="95.10" y1="251.12" x2="95.10" y2="242.17" stroke="#000" stroke-width="0.9"/>
<line x1="93.10" y1="242.17" x2="97.10" y2="242.17" stroke="#000" stroke-width="0.9"/>
<line x1="103.60" y1="256.94" x2="103.60" y2="249.41" stroke="#000" stroke-width="0.9"/>
<line x1="101.60" y1="249.41" x2="105.60" y2="249.41" stroke="#000" stroke-width="0.9"/>
<line x1="52.60" y1="216.47" x2="52.60" y2="227.12" stroke="#000" stroke-width="0.9"/>
<line x1="50.60" y1="227.12" x2="54.60" y2="227.12" stroke="#000" stroke-width="0.9"/>
<line x1="61.10" y1="221.87" x2="61.10" y2="230.95" stroke="#000" stroke-width="0.9"/>
<line x1="59.10" y1="230.95" x2="63.10" y2="230.95" stroke="#000" stroke-width="0.9"/>
<line x1="69.60" y1="237.06" x2="69.60" y2="244.59" stroke="#000" stroke-width="0.9"/>
<line x1="67.60" y1="244.59" x2="71.60" y2="244.59" stroke="#000" stroke-width="0.9"/>
<line x1="78.10" y1="254.10" x2="78.10" y2="258.22" stroke="#000" stroke-width="0.9"/>
<line x1="76.10" y1="258.22" x2="80.10" y2="258.22" stroke="#000" stroke-width="0.9"/>
<polyline points="52.60,216.47 61.10,221.87 69.60,237.06 78.10,254.10 86.60,265.46 95.10,273.27 103.60,275.12 112.10,275.40 120.60,275.40 129.10,275.40 137.60,275.40 146.10,275.40 154.60,275.40 163.10,275.40 171.60,275.40 180.10,275.40 188.60,275.40" fill="none" stroke="#000" stroke-width="0.9" stroke-linejoin="round" stroke-dasharray="2.2,1.3"/>
<polyline points="52.60,216.04 61.10,218.60 69.60,222.72 78.10,236.49 86.60,242.88 95.10,251.12 103.60,256.94 112.10,266.45 120.60,271.14 129.10,275.40 137.60,275.40 146.10,275.40 154.60,275.40 163.10,275.40 171.60,275.40 180.10,275.40 188.60,275.40" fill="none" stroke="#000" stroke-width="0.9" stroke-linejoin="round" stroke-dasharray="2.2,1.3"/>
<polyline points="52.60,210.08 61.10,212.92 69.60,210.79 78.10,206.67 86.60,214.91 95.10,220.45 103.60,224.56 112.10,232.09 120.60,242.88 129.10,247.71 137.60,247.00 146.10,253.39 154.60,255.24 163.10,262.62 171.60,273.27 180.10,274.69 188.60,275.12" fill="none" stroke="#000" stroke-width="1.1" stroke-linejoin="round"/>
<circle cx="52.60" cy="216.47" r="1.9" fill="none" stroke="#000" stroke-width="0.9"/>
<circle cx="61.10" cy="221.87" r="1.9" fill="none" stroke="#000" stroke-width="0.9"/>
<circle cx="69.60" cy="237.06" r="1.9" fill="none" stroke="#000" stroke-width="0.9"/>
<circle cx="78.10" cy="254.10" r="1.9" fill="none" stroke="#000" stroke-width="0.9"/>
<circle cx="86.60" cy="265.46" r="1.9" fill="none" stroke="#000" stroke-width="0.9"/>
<circle cx="95.10" cy="273.27" r="1.9" fill="none" stroke="#000" stroke-width="0.9"/>
<circle cx="103.60" cy="275.12" r="1.9" fill="none" stroke="#000" stroke-width="0.9"/>
<circle cx="112.10" cy="275.40" r="1.9" fill="none" stroke="#000" stroke-width="0.9"/>
<circle cx="120.60" cy="275.40" r="1.9" fill="none" stroke="#000" stroke-width="0.9"/>
<circle cx="129.10" cy="275.40" r="1.9" fill="none" stroke="#000" stroke-width="0.9"/>
<circle cx="137.60" cy="275.40" r="1.9" fill="none" stroke="#000" stroke-width="0.9"/>
<circle cx="146.10" cy="275.40" r="1.9" fill="none" stroke="#000" stroke-width="0.9"/>
<circle cx="154.60" cy="275.40" r="1.9" fill="none" stroke="#000" stroke-width="0.9"/>
<circle cx="163.10" cy="275.40" r="1.9" fill="none" stroke="#000" stroke-width="0.9"/>
<circle cx="171.60" cy="275.40" r="1.9" fill="none" stroke="#000" stroke-width="0.9"/>
<circle cx="180.10" cy="275.40" r="1.9" fill="none" stroke="#000" stroke-width="0.9"/>
<circle cx="188.60" cy="275.40" r="1.9" fill="none" stroke="#000" stroke-width="0.9"/>
<rect x="51.00" y="214.44" width="3.20" height="3.20" fill="none" stroke="#000" stroke-width="0.9"/>
<rect x="59.50" y="217.00" width="3.20" height="3.20" fill="none" stroke="#000" stroke-width="0.9"/>
<rect x="68.00" y="221.12" width="3.20" height="3.20" fill="none" stroke="#000" stroke-width="0.9"/>
<rect x="76.50" y="234.89" width="3.20" height="3.20" fill="none" stroke="#000" stroke-width="0.9"/>
<rect x="85.00" y="241.28" width="3.20" height="3.20" fill="none" stroke="#000" stroke-width="0.9"/>
<rect x="93.50" y="249.52" width="3.20" height="3.20" fill="none" stroke="#000" stroke-width="0.9"/>
<rect x="102.00" y="255.34" width="3.20" height="3.20" fill="none" stroke="#000" stroke-width="0.9"/>
<rect x="110.50" y="264.85" width="3.20" height="3.20" fill="none" stroke="#000" stroke-width="0.9"/>
<rect x="119.00" y="269.54" width="3.20" height="3.20" fill="none" stroke="#000" stroke-width="0.9"/>
<rect x="127.50" y="273.80" width="3.20" height="3.20" fill="none" stroke="#000" stroke-width="0.9"/>
<rect x="136.00" y="273.80" width="3.20" height="3.20" fill="none" stroke="#000" stroke-width="0.9"/>
<rect x="144.50" y="273.80" width="3.20" height="3.20" fill="none" stroke="#000" stroke-width="0.9"/>
<rect x="153.00" y="273.80" width="3.20" height="3.20" fill="none" stroke="#000" stroke-width="0.9"/>
<rect x="161.50" y="273.80" width="3.20" height="3.20" fill="none" stroke="#000" stroke-width="0.9"/>
<rect x="170.00" y="273.80" width="3.20" height="3.20" fill="none" stroke="#000" stroke-width="0.9"/>
<rect x="178.50" y="273.80" width="3.20" height="3.20" fill="none" stroke="#000" stroke-width="0.9"/>
<rect x="187.00" y="273.80" width="3.20" height="3.20" fill="none" stroke="#000" stroke-width="0.9"/>
<circle cx="52.60" cy="210.08" r="2.4" fill="#000"/>
<circle cx="61.10" cy="212.92" r="2.4" fill="#000"/>
<circle cx="69.60" cy="210.79" r="2.4" fill="#000"/>
<circle cx="78.10" cy="206.67" r="2.4" fill="#000"/>
<circle cx="86.60" cy="214.91" r="2.4" fill="#000"/>
<circle cx="95.10" cy="220.45" r="2.4" fill="#000"/>
<circle cx="103.60" cy="224.56" r="2.4" fill="#000"/>
<circle cx="112.10" cy="232.09" r="2.4" fill="#000"/>
<circle cx="120.60" cy="242.88" r="2.4" fill="#000"/>
<circle cx="129.10" cy="247.71" r="2.4" fill="#000"/>
<circle cx="137.60" cy="247.00" r="2.4" fill="#000"/>
<circle cx="146.10" cy="253.39" r="2.4" fill="#000"/>
<circle cx="154.60" cy="255.24" r="2.4" fill="#000"/>
<circle cx="163.10" cy="262.62" r="2.4" fill="#000"/>
<circle cx="171.60" cy="273.27" r="2.4" fill="#000"/>
<circle cx="180.10" cy="274.69" r="2.4" fill="#000"/>
<circle cx="188.60" cy="275.12" r="2.4" fill="#000"/>
<line x1="49.80" y1="167.00" x2="61.60" y2="167.00" stroke="#000" stroke-width="1.0"/>
<circle cx="55.70" cy="167.00" r="2.4" fill="#000"/>
<text x="63.60" y="169.50" font-size="7.3" text-anchor="start" textLength="65.00" lengthAdjust="spacingAndGlyphs">Control IgG-treated</text>
<line x1="49.80" y1="177.00" x2="61.60" y2="177.00" stroke="#000" stroke-width="1.0" stroke-dasharray="2.2,1.3"/>
<rect x="54.20" y="175.50" width="3.00" height="3.00" fill="none" stroke="#000" stroke-width="0.9"/>
<text x="63.60" y="179.50" font-size="7.3" text-anchor="start" textLength="49.50" lengthAdjust="spacingAndGlyphs">&#x3B1;IL-10-treated</text>
<line x1="49.80" y1="187.10" x2="61.60" y2="187.10" stroke="#000" stroke-width="1.0" stroke-dasharray="2.2,1.3"/>
<circle cx="55.70" cy="187.10" r="1.9" fill="none" stroke="#000" stroke-width="0.9"/>
<text x="63.60" y="189.60" font-size="7.3" text-anchor="start" textLength="78.00" lengthAdjust="spacingAndGlyphs">&#x3B1;IL-10/&#x3B1;TGF-&#x3B2;-treated</text>
<text x="117.00" y="298.50" font-size="8.8" text-anchor="middle" textLength="83.60" lengthAdjust="spacingAndGlyphs">Days after inoculation</text>
<text x="13.20" y="230.90" font-size="9.3" text-anchor="middle" transform="rotate(-90 13.20 230.90)" textLength="77.50" lengthAdjust="spacingAndGlyphs">Recovered colonies</text>
<text x="25.60" y="226.60" font-size="9.3" text-anchor="middle" transform="rotate(-90 25.60 226.60)">of Ngo (&#x00D7;10<tspan font-size="6.3" dy="-3.7">5</tspan><tspan dy="3.7">)</tspan></text>
<text x="208.00" y="169.70" font-size="17" text-anchor="start" font-weight="bold">e</text>
<line x1="258.30" y1="204.00" x2="258.30" y2="287.90" stroke="#000" stroke-width="1.3"/>
<line x1="257.70" y1="287.30" x2="379.60" y2="287.30" stroke="#000" stroke-width="1.3"/>
<line x1="255.80" y1="287.30" x2="258.30" y2="287.30" stroke="#000" stroke-width="1"/>
<text x="254.30" y="290.30" font-size="8.5" text-anchor="end" font-weight="bold">0</text>
<line x1="255.80" y1="273.45" x2="258.30" y2="273.45" stroke="#000" stroke-width="1"/>
<text x="254.30" y="276.45" font-size="8.5" text-anchor="end" font-weight="bold">5</text>
<line x1="255.80" y1="259.60" x2="258.30" y2="259.60" stroke="#000" stroke-width="1"/>
<text x="254.30" y="262.60" font-size="8.5" text-anchor="end" font-weight="bold">10</text>
<line x1="255.80" y1="245.75" x2="258.30" y2="245.75" stroke="#000" stroke-width="1"/>
<text x="254.30" y="248.75" font-size="8.5" text-anchor="end" font-weight="bold">15</text>
<line x1="255.80" y1="231.90" x2="258.30" y2="231.90" stroke="#000" stroke-width="1"/>
<text x="254.30" y="234.90" font-size="8.5" text-anchor="end" font-weight="bold">20</text>
<line x1="255.80" y1="218.05" x2="258.30" y2="218.05" stroke="#000" stroke-width="1"/>
<text x="254.30" y="221.05" font-size="8.5" text-anchor="end" font-weight="bold">25</text>
<line x1="255.80" y1="204.20" x2="258.30" y2="204.20" stroke="#000" stroke-width="1"/>
<text x="254.30" y="207.20" font-size="8.5" text-anchor="end" font-weight="bold">30</text>
<rect x="262.10" y="282.87" width="7.00" height="4.43" fill="#fff" stroke="#000" stroke-width="0.9"/>
<rect x="270.80" y="270.96" width="7.00" height="16.34" fill="url(#hatch)" stroke="#000" stroke-width="0.9"/>
<line x1="274.30" y1="270.96" x2="274.30" y2="267.63" stroke="#000" stroke-width="0.9"/>
<line x1="272.50" y1="267.63" x2="276.10" y2="267.63" stroke="#000" stroke-width="0.9"/>
<rect x="279.30" y="236.33" width="7.00" height="50.97" fill="url(#check)" stroke="#000" stroke-width="0.9"/>
<line x1="282.80" y1="236.33" x2="282.80" y2="231.35" stroke="#000" stroke-width="0.9"/>
<line x1="281.00" y1="231.35" x2="284.60" y2="231.35" stroke="#000" stroke-width="0.9"/>
<rect x="287.90" y="217.50" width="7.00" height="69.80" fill="url(#dots)" stroke="#000" stroke-width="0.9"/>
<line x1="291.40" y1="217.50" x2="291.40" y2="211.40" stroke="#000" stroke-width="0.9"/>
<line x1="289.60" y1="211.40" x2="293.20" y2="211.40" stroke="#000" stroke-width="0.9"/>
<line x1="278.60" y1="287.30" x2="278.60" y2="289.80" stroke="#000" stroke-width="1"/>
<text x="278.60" y="297.80" font-size="9" text-anchor="middle">IFN-&#x3B3;</text>
<rect x="303.00" y="285.36" width="7.00" height="1.94" fill="#fff" stroke="#000" stroke-width="0.9"/>
<rect x="311.50" y="280.38" width="7.00" height="6.93" fill="url(#hatch)" stroke="#000" stroke-width="0.9"/>
<line x1="315.00" y1="280.38" x2="315.00" y2="278.44" stroke="#000" stroke-width="0.9"/>
<line x1="313.20" y1="278.44" x2="316.80" y2="278.44" stroke="#000" stroke-width="0.9"/>
<rect x="319.70" y="266.25" width="7.00" height="21.05" fill="url(#check)" stroke="#000" stroke-width="0.9"/>
<line x1="323.20" y1="266.25" x2="323.20" y2="262.23" stroke="#000" stroke-width="0.9"/>
<line x1="321.40" y1="262.23" x2="325.00" y2="262.23" stroke="#000" stroke-width="0.9"/>
<rect x="328.20" y="248.80" width="7.00" height="38.50" fill="url(#dots)" stroke="#000" stroke-width="0.9"/>
<line x1="331.70" y1="248.80" x2="331.70" y2="245.89" stroke="#000" stroke-width="0.9"/>
<line x1="329.90" y1="245.89" x2="333.50" y2="245.89" stroke="#000" stroke-width="0.9"/>
<line x1="319.10" y1="287.30" x2="319.10" y2="289.80" stroke="#000" stroke-width="1"/>
<text x="319.10" y="297.80" font-size="9" text-anchor="middle">IL-4</text>
<rect x="343.30" y="281.21" width="7.00" height="6.09" fill="#fff" stroke="#000" stroke-width="0.9"/>
<rect x="352.00" y="246.30" width="7.00" height="41.00" fill="url(#hatch)" stroke="#000" stroke-width="0.9"/>
<line x1="355.50" y1="246.30" x2="355.50" y2="242.70" stroke="#000" stroke-width="0.9"/>
<line x1="353.70" y1="242.70" x2="357.30" y2="242.70" stroke="#000" stroke-width="0.9"/>
<rect x="360.50" y="228.58" width="7.00" height="58.72" fill="url(#check)" stroke="#000" stroke-width="0.9"/>
<line x1="364.00" y1="228.58" x2="364.00" y2="223.31" stroke="#000" stroke-width="0.9"/>
<line x1="362.20" y1="223.31" x2="365.80" y2="223.31" stroke="#000" stroke-width="0.9"/>
<rect x="369.10" y="271.51" width="7.00" height="15.79" fill="url(#dots)" stroke="#000" stroke-width="0.9"/>
<line x1="372.60" y1="271.51" x2="372.60" y2="265.42" stroke="#000" stroke-width="0.9"/>
<line x1="370.80" y1="265.42" x2="374.40" y2="265.42" stroke="#000" stroke-width="0.9"/>
<line x1="360.50" y1="287.30" x2="360.50" y2="289.80" stroke="#000" stroke-width="1"/>
<text x="360.50" y="297.80" font-size="9" text-anchor="middle">IL-17</text>
<line x1="271.20" y1="227.80" x2="285.90" y2="227.80" stroke="#000" stroke-width="1.3"/>
<polygon points="276.60,220.30 277.26,221.89 278.98,222.03 277.67,223.15 278.07,224.82 276.60,223.93 275.13,224.82 275.53,223.15 274.22,222.03 275.94,221.89" fill="#111" stroke="none" stroke-width="0"/>
<line x1="279.90" y1="208.50" x2="294.00" y2="208.50" stroke="#000" stroke-width="1.3"/>
<text x="285.00" y="218.00" font-size="7.4" text-anchor="middle" fill="#222" font-style="italic">#</text>
<line x1="312.10" y1="259.60" x2="326.60" y2="259.60" stroke="#000" stroke-width="1.3"/>
<text x="319.70" y="257.40" font-size="7.4" text-anchor="middle" fill="#222" font-style="italic">#</text>
<line x1="319.10" y1="242.70" x2="333.20" y2="242.70" stroke="#000" stroke-width="1.3"/>
<polygon points="325.80,235.40 326.46,236.99 328.18,237.13 326.87,238.25 327.27,239.92 325.80,239.03 324.33,239.92 324.73,238.25 323.42,237.13 325.14,236.99" fill="#111" stroke="none" stroke-width="0"/>
<line x1="352.00" y1="219.70" x2="366.50" y2="219.70" stroke="#000" stroke-width="1.3"/>
<text x="357.00" y="228.80" font-size="7.4" text-anchor="middle" fill="#222" font-style="italic">#</text>
<line x1="360.90" y1="215.70" x2="375.00" y2="215.70" stroke="#000" stroke-width="1.3"/>
<polygon points="368.50,210.00 369.16,211.59 370.88,211.73 369.57,212.85 369.97,214.52 368.50,213.62 367.03,214.52 367.43,212.85 366.12,211.73 367.84,211.59" fill="#111" stroke="none" stroke-width="0"/>
<rect x="261.80" y="163.00" width="12.40" height="6.80" fill="#fff" stroke="#999" stroke-width="0.9"/>
<text x="275.90" y="169.40" font-size="8.8" text-anchor="start" textLength="55.60" lengthAdjust="spacingAndGlyphs">Sham-infected</text>
<rect x="261.80" y="174.00" width="12.40" height="6.80" fill="url(#hatchL)" stroke="#000" stroke-width="0.9"/>
<text x="275.90" y="180.40" font-size="8.8" text-anchor="start" textLength="76.10" lengthAdjust="spacingAndGlyphs">Infected/control IgG</text>
<rect x="261.80" y="185.70" width="12.40" height="6.80" fill="url(#check)" stroke="#000" stroke-width="0.9"/>
<text x="275.90" y="192.10" font-size="8.8" text-anchor="start" textLength="59.60" lengthAdjust="spacingAndGlyphs">Infected/&#x3B1;IL-10</text>
<rect x="261.80" y="197.40" width="12.40" height="6.80" fill="url(#dots)" stroke="none" stroke-width="0.9"/>
<text x="275.90" y="203.80" font-size="8.8" text-anchor="start" textLength="94.80" lengthAdjust="spacingAndGlyphs">Infected/&#x3B1;IL-10+&#x3B1;TGF-&#x3B2;</text>
<text x="226.90" y="246.90" font-size="9" text-anchor="middle" transform="rotate(-90 226.90 246.90)" textLength="62.50" lengthAdjust="spacingAndGlyphs">% CD4 T cells</text>
<text x="236.70" y="244.10" font-size="9" text-anchor="middle" transform="rotate(-90 236.70 244.10)" textLength="96.00" lengthAdjust="spacingAndGlyphs">expressing the cytokine</text>
<text x="419.00" y="169.70" font-size="17" text-anchor="start" font-weight="bold">f</text>
<line x1="471.60" y1="205.80" x2="471.60" y2="287.30" stroke="#000" stroke-width="1.3"/>
<line x1="471.00" y1="286.70" x2="594.50" y2="286.70" stroke="#000" stroke-width="1.3"/>
<line x1="469.10" y1="286.70" x2="471.60" y2="286.70" stroke="#000" stroke-width="1"/>
<text x="467.60" y="289.70" font-size="8.5" text-anchor="end" font-weight="bold">0</text>
<line x1="469.10" y1="273.33" x2="471.60" y2="273.33" stroke="#000" stroke-width="1"/>
<text x="467.60" y="276.33" font-size="8.5" text-anchor="end" font-weight="bold">5</text>
<line x1="469.10" y1="259.97" x2="471.60" y2="259.97" stroke="#000" stroke-width="1"/>
<text x="467.60" y="262.97" font-size="8.5" text-anchor="end" font-weight="bold">10</text>
<line x1="469.10" y1="246.60" x2="471.60" y2="246.60" stroke="#000" stroke-width="1"/>
<text x="467.60" y="249.60" font-size="8.5" text-anchor="end" font-weight="bold">15</text>
<line x1="469.10" y1="233.23" x2="471.60" y2="233.23" stroke="#000" stroke-width="1"/>
<text x="467.60" y="236.23" font-size="8.5" text-anchor="end" font-weight="bold">20</text>
<line x1="469.10" y1="219.87" x2="471.60" y2="219.87" stroke="#000" stroke-width="1"/>
<text x="467.60" y="222.87" font-size="8.5" text-anchor="end" font-weight="bold">25</text>
<line x1="469.10" y1="206.50" x2="471.60" y2="206.50" stroke="#000" stroke-width="1"/>
<text x="467.60" y="209.50" font-size="8.5" text-anchor="end" font-weight="bold">30</text>
<rect x="476.10" y="284.29" width="7.00" height="2.41" fill="#fff" stroke="#000" stroke-width="0.9"/>
<rect x="484.60" y="274.94" width="7.00" height="11.76" fill="url(#hatch)" stroke="#000" stroke-width="0.9"/>
<line x1="488.10" y1="274.94" x2="488.10" y2="270.93" stroke="#000" stroke-width="0.9"/>
<line x1="486.30" y1="270.93" x2="489.90" y2="270.93" stroke="#000" stroke-width="0.9"/>
<rect x="493.20" y="244.19" width="7.00" height="42.51" fill="url(#check)" stroke="#000" stroke-width="0.9"/>
<line x1="496.70" y1="244.19" x2="496.70" y2="238.05" stroke="#000" stroke-width="0.9"/>
<line x1="494.90" y1="238.05" x2="498.50" y2="238.05" stroke="#000" stroke-width="0.9"/>
<rect x="501.70" y="227.89" width="7.00" height="58.81" fill="url(#dots)" stroke="#000" stroke-width="0.9"/>
<line x1="505.20" y1="227.89" x2="505.20" y2="221.47" stroke="#000" stroke-width="0.9"/>
<line x1="503.40" y1="221.47" x2="507.00" y2="221.47" stroke="#000" stroke-width="0.9"/>
<line x1="492.30" y1="286.70" x2="492.30" y2="289.20" stroke="#000" stroke-width="1"/>
<text x="492.30" y="296.60" font-size="9" text-anchor="middle">IFN-&#x3B3;</text>
<rect x="517.00" y="284.29" width="7.00" height="2.41" fill="#fff" stroke="#000" stroke-width="0.9"/>
<rect x="525.50" y="282.69" width="7.00" height="4.01" fill="url(#hatch)" stroke="#000" stroke-width="0.9"/>
<rect x="534.20" y="272.26" width="7.00" height="14.44" fill="url(#check)" stroke="#000" stroke-width="0.9"/>
<line x1="537.70" y1="272.26" x2="537.70" y2="269.59" stroke="#000" stroke-width="0.9"/>
<line x1="535.90" y1="269.59" x2="539.50" y2="269.59" stroke="#000" stroke-width="0.9"/>
<rect x="542.90" y="261.04" width="7.00" height="25.66" fill="url(#dots)" stroke="#000" stroke-width="0.9"/>
<line x1="546.40" y1="261.04" x2="546.40" y2="257.03" stroke="#000" stroke-width="0.9"/>
<line x1="544.60" y1="257.03" x2="548.20" y2="257.03" stroke="#000" stroke-width="0.9"/>
<line x1="533.60" y1="286.70" x2="533.60" y2="289.20" stroke="#000" stroke-width="1"/>
<text x="533.60" y="296.60" font-size="9" text-anchor="middle">IL-4</text>
<rect x="558.40" y="284.29" width="7.00" height="2.41" fill="#fff" stroke="#000" stroke-width="0.9"/>
<rect x="567.10" y="262.11" width="7.00" height="24.59" fill="url(#hatch)" stroke="#000" stroke-width="0.9"/>
<line x1="570.60" y1="262.11" x2="570.60" y2="258.63" stroke="#000" stroke-width="0.9"/>
<line x1="568.80" y1="258.63" x2="572.40" y2="258.63" stroke="#000" stroke-width="0.9"/>
<rect x="575.60" y="247.40" width="7.00" height="39.30" fill="url(#check)" stroke="#000" stroke-width="0.9"/>
<line x1="579.10" y1="247.40" x2="579.10" y2="241.25" stroke="#000" stroke-width="0.9"/>
<line x1="577.30" y1="241.25" x2="580.90" y2="241.25" stroke="#000" stroke-width="0.9"/>
<rect x="584.30" y="277.61" width="7.00" height="9.09" fill="url(#dots)" stroke="#000" stroke-width="0.9"/>
<line x1="587.80" y1="277.61" x2="587.80" y2="274.14" stroke="#000" stroke-width="0.9"/>
<line x1="586.00" y1="274.14" x2="589.60" y2="274.14" stroke="#000" stroke-width="0.9"/>
<line x1="575.00" y1="286.70" x2="575.00" y2="289.20" stroke="#000" stroke-width="1"/>
<text x="575.00" y="296.60" font-size="9" text-anchor="middle">IL-17</text>
<line x1="485.20" y1="232.90" x2="497.30" y2="232.90" stroke="#000" stroke-width="1.3"/>
<polygon points="489.60,227.40 490.26,228.99 491.98,229.13 490.67,230.25 491.07,231.92 489.60,231.03 488.13,231.92 488.53,230.25 487.22,229.13 488.94,228.99" fill="#111" stroke="none" stroke-width="0"/>
<line x1="493.60" y1="217.80" x2="507.00" y2="217.80" stroke="#000" stroke-width="1.3"/>
<text x="499.70" y="226.40" font-size="7.4" text-anchor="middle" fill="#222" font-style="italic">#</text>
<line x1="527.10" y1="267.20" x2="540.20" y2="267.20" stroke="#000" stroke-width="1.3"/>
<polygon points="533.20,260.50 533.86,262.09 535.58,262.23 534.27,263.35 534.67,265.02 533.20,264.12 531.73,265.02 532.13,263.35 530.82,262.23 532.54,262.09" fill="#111" stroke="none" stroke-width="0"/>
<line x1="535.80" y1="254.10" x2="548.90" y2="254.10" stroke="#000" stroke-width="1.3"/>
<polygon points="542.30,247.00 542.96,248.59 544.68,248.73 543.37,249.85 543.77,251.52 542.30,250.62 540.83,251.52 541.23,249.85 539.92,248.73 541.64,248.59" fill="#111" stroke="none" stroke-width="0"/>
<line x1="567.10" y1="236.30" x2="579.60" y2="236.30" stroke="#000" stroke-width="1.3"/>
<text x="572.50" y="234.90" font-size="7.4" text-anchor="middle" fill="#222" font-style="italic">#</text>
<line x1="578.60" y1="238.80" x2="591.30" y2="238.80" stroke="#000" stroke-width="1.3"/>
<polygon points="586.10,241.50 586.76,243.09 588.48,243.23 587.17,244.35 587.57,246.02 586.10,245.12 584.63,246.02 585.03,244.35 583.72,243.23 585.44,243.09" fill="#111" stroke="none" stroke-width="0"/>
<rect x="477.00" y="162.40" width="12.30" height="6.80" fill="#fff" stroke="#999" stroke-width="0.9"/>
<text x="491.80" y="168.80" font-size="8.5" text-anchor="start" textLength="53.30" lengthAdjust="spacingAndGlyphs">Sham-infected</text>
<rect x="477.00" y="172.10" width="12.30" height="6.80" fill="url(#hatchL)" stroke="#000" stroke-width="0.9"/>
<text x="491.80" y="178.50" font-size="8.5" text-anchor="start" textLength="73.20" lengthAdjust="spacingAndGlyphs">Infected/control IgG</text>
<rect x="477.00" y="182.60" width="12.30" height="6.80" fill="url(#check)" stroke="#000" stroke-width="0.9"/>
<text x="491.80" y="189.00" font-size="8.5" text-anchor="start" textLength="57.30" lengthAdjust="spacingAndGlyphs">Infected/&#x3B1;IL-10</text>
<rect x="477.00" y="193.00" width="12.30" height="6.80" fill="url(#dots)" stroke="none" stroke-width="0.9"/>
<text x="491.80" y="199.40" font-size="8.5" text-anchor="start" textLength="92.30" lengthAdjust="spacingAndGlyphs">Infected/&#x3B1;IL-10+&#x3B1;TGF-&#x3B2;</text>
<text x="439.00" y="246.00" font-size="9" text-anchor="middle" transform="rotate(-90 439.00 246.00)" textLength="88.00" lengthAdjust="spacingAndGlyphs">Relative expression of</text>
<text x="449.50" y="246.00" font-size="9" text-anchor="middle" transform="rotate(-90 449.50 246.00)" textLength="60.00" lengthAdjust="spacingAndGlyphs">cytokine mRNA</text>
<text x="2.60" y="326.50" font-size="17" text-anchor="start" font-weight="bold">g</text>
<line x1="37.60" y1="357.70" x2="37.60" y2="437.80" stroke="#000" stroke-width="1.3"/>
<line x1="37.00" y1="437.20" x2="176.50" y2="437.20" stroke="#000" stroke-width="1.3"/>
<line x1="35.10" y1="437.20" x2="37.60" y2="437.20" stroke="#000" stroke-width="1"/>
<text x="32.60" y="440.00" font-size="8.0" text-anchor="end" font-weight="bold">0</text>
<line x1="35.10" y1="423.30" x2="37.60" y2="423.30" stroke="#000" stroke-width="1"/>
<text x="32.60" y="426.10" font-size="8.0" text-anchor="end" font-weight="bold">2</text>
<line x1="35.10" y1="409.40" x2="37.60" y2="409.40" stroke="#000" stroke-width="1"/>
<text x="32.60" y="412.20" font-size="8.0" text-anchor="end" font-weight="bold">4</text>
<line x1="35.10" y1="395.50" x2="37.60" y2="395.50" stroke="#000" stroke-width="1"/>
<text x="32.60" y="398.30" font-size="8.0" text-anchor="end" font-weight="bold">6</text>
<line x1="35.10" y1="381.60" x2="37.60" y2="381.60" stroke="#000" stroke-width="1"/>
<text x="32.60" y="384.40" font-size="8.0" text-anchor="end" font-weight="bold">8</text>
<line x1="35.10" y1="367.70" x2="37.60" y2="367.70" stroke="#000" stroke-width="1"/>
<text x="32.60" y="370.50" font-size="8.0" text-anchor="end" font-weight="bold">10</text>
<line x1="43.40" y1="421.91" x2="43.40" y2="417.74" stroke="#000" stroke-width="0.9"/>
<line x1="41.80" y1="417.74" x2="45.00" y2="417.74" stroke="#000" stroke-width="0.9"/>
<rect x="40.50" y="421.91" width="5.80" height="15.29" fill="#fff" stroke="#000" stroke-width="0.8"/>
<line x1="49.40" y1="396.89" x2="49.40" y2="390.63" stroke="#000" stroke-width="0.9"/>
<line x1="47.80" y1="390.63" x2="51.00" y2="390.63" stroke="#000" stroke-width="0.9"/>
<rect x="46.50" y="396.89" width="5.80" height="40.31" fill="url(#hatch)" stroke="#000" stroke-width="0.8"/>
<line x1="55.30" y1="369.78" x2="55.30" y2="363.88" stroke="#000" stroke-width="0.9"/>
<line x1="53.70" y1="363.88" x2="56.90" y2="363.88" stroke="#000" stroke-width="0.9"/>
<rect x="52.30" y="369.78" width="6.00" height="67.41" fill="url(#check)" stroke="#000" stroke-width="0.8"/>
<line x1="49.40" y1="437.20" x2="49.40" y2="439.70" stroke="#000" stroke-width="1"/>
<text x="50.00" y="449.40" font-size="8.6" text-anchor="end" transform="rotate(-45 50.00 449.40)">Gr-1<tspan font-size="6.2" dy="-3.8">+</tspan></text>
<line x1="66.20" y1="426.77" x2="66.20" y2="424.69" stroke="#000" stroke-width="0.9"/>
<line x1="64.60" y1="424.69" x2="67.80" y2="424.69" stroke="#000" stroke-width="0.9"/>
<rect x="63.30" y="426.77" width="5.80" height="10.43" fill="#fff" stroke="#000" stroke-width="0.8"/>
<line x1="72.20" y1="419.13" x2="72.20" y2="414.61" stroke="#000" stroke-width="0.9"/>
<line x1="70.60" y1="414.61" x2="73.80" y2="414.61" stroke="#000" stroke-width="0.9"/>
<rect x="69.30" y="419.13" width="5.80" height="18.07" fill="url(#hatch)" stroke="#000" stroke-width="0.8"/>
<line x1="78.10" y1="410.79" x2="78.10" y2="408.01" stroke="#000" stroke-width="0.9"/>
<line x1="76.50" y1="408.01" x2="79.70" y2="408.01" stroke="#000" stroke-width="0.9"/>
<rect x="75.10" y="410.79" width="6.00" height="26.41" fill="url(#check)" stroke="#000" stroke-width="0.8"/>
<line x1="72.20" y1="437.20" x2="72.20" y2="439.70" stroke="#000" stroke-width="1"/>
<text x="72.80" y="449.40" font-size="8.6" text-anchor="end" transform="rotate(-45 72.80 449.40)">CD4<tspan font-size="6.2" dy="-3.8">+</tspan></text>
<line x1="89.30" y1="430.94" x2="89.30" y2="427.82" stroke="#000" stroke-width="0.9"/>
<line x1="87.70" y1="427.82" x2="90.90" y2="427.82" stroke="#000" stroke-width="0.9"/>
<rect x="86.40" y="430.94" width="5.80" height="6.25" fill="#fff" stroke="#000" stroke-width="0.8"/>
<line x1="95.30" y1="417.04" x2="95.30" y2="412.53" stroke="#000" stroke-width="0.9"/>
<line x1="93.70" y1="412.53" x2="96.90" y2="412.53" stroke="#000" stroke-width="0.9"/>
<rect x="92.40" y="417.04" width="5.80" height="20.16" fill="url(#hatch)" stroke="#000" stroke-width="0.8"/>
<line x1="101.20" y1="399.67" x2="101.20" y2="393.76" stroke="#000" stroke-width="0.9"/>
<line x1="99.60" y1="393.76" x2="102.80" y2="393.76" stroke="#000" stroke-width="0.9"/>
<rect x="98.20" y="399.67" width="6.00" height="37.53" fill="url(#check)" stroke="#000" stroke-width="0.8"/>
<line x1="95.30" y1="437.20" x2="95.30" y2="439.70" stroke="#000" stroke-width="1"/>
<text x="95.90" y="449.40" font-size="8.6" text-anchor="end" transform="rotate(-45 95.90 449.40)">CD8<tspan font-size="6.2" dy="-3.8">+</tspan></text>
<line x1="113.00" y1="428.16" x2="113.00" y2="425.38" stroke="#000" stroke-width="0.9"/>
<line x1="111.40" y1="425.38" x2="114.60" y2="425.38" stroke="#000" stroke-width="0.9"/>
<rect x="110.10" y="428.16" width="5.80" height="9.04" fill="#fff" stroke="#000" stroke-width="0.8"/>
<line x1="119.00" y1="417.04" x2="119.00" y2="414.96" stroke="#000" stroke-width="0.9"/>
<line x1="117.40" y1="414.96" x2="120.60" y2="414.96" stroke="#000" stroke-width="0.9"/>
<rect x="116.10" y="417.04" width="5.80" height="20.16" fill="url(#hatch)" stroke="#000" stroke-width="0.8"/>
<line x1="124.90" y1="395.50" x2="124.90" y2="389.59" stroke="#000" stroke-width="0.9"/>
<line x1="123.30" y1="389.59" x2="126.50" y2="389.59" stroke="#000" stroke-width="0.9"/>
<rect x="121.90" y="395.50" width="6.00" height="41.70" fill="url(#check)" stroke="#000" stroke-width="0.8"/>
<line x1="119.00" y1="437.20" x2="119.00" y2="439.70" stroke="#000" stroke-width="1"/>
<text x="119.60" y="449.40" font-size="8.6" text-anchor="end" transform="rotate(-45 119.60 449.40)">CD19<tspan font-size="6.2" dy="-3.8">+</tspan></text>
<line x1="136.20" y1="422.60" x2="136.20" y2="419.82" stroke="#000" stroke-width="0.9"/>
<line x1="134.60" y1="419.82" x2="137.80" y2="419.82" stroke="#000" stroke-width="0.9"/>
<rect x="133.30" y="422.60" width="5.80" height="14.60" fill="#fff" stroke="#000" stroke-width="0.8"/>
<line x1="142.20" y1="401.06" x2="142.20" y2="397.24" stroke="#000" stroke-width="0.9"/>
<line x1="140.60" y1="397.24" x2="143.80" y2="397.24" stroke="#000" stroke-width="0.9"/>
<rect x="139.30" y="401.06" width="5.80" height="36.14" fill="url(#hatch)" stroke="#000" stroke-width="0.8"/>
<line x1="148.10" y1="398.28" x2="148.10" y2="394.11" stroke="#000" stroke-width="0.9"/>
<line x1="146.50" y1="394.11" x2="149.70" y2="394.11" stroke="#000" stroke-width="0.9"/>
<rect x="145.10" y="398.28" width="6.00" height="38.92" fill="url(#check)" stroke="#000" stroke-width="0.8"/>
<line x1="142.20" y1="437.20" x2="142.20" y2="439.70" stroke="#000" stroke-width="1"/>
<text x="142.80" y="449.40" font-size="8.6" text-anchor="end" transform="rotate(-45 142.80 449.40)">CD11b<tspan font-size="6.2" dy="-3.8">+</tspan></text>
<line x1="159.30" y1="419.82" x2="159.30" y2="415.31" stroke="#000" stroke-width="0.9"/>
<line x1="157.70" y1="415.31" x2="160.90" y2="415.31" stroke="#000" stroke-width="0.9"/>
<rect x="156.40" y="419.82" width="5.80" height="17.38" fill="#fff" stroke="#000" stroke-width="0.8"/>
<line x1="165.30" y1="408.70" x2="165.30" y2="403.49" stroke="#000" stroke-width="0.9"/>
<line x1="163.70" y1="403.49" x2="166.90" y2="403.49" stroke="#000" stroke-width="0.9"/>
<rect x="162.40" y="408.70" width="5.80" height="28.49" fill="url(#hatch)" stroke="#000" stroke-width="0.8"/>
<line x1="171.20" y1="405.93" x2="171.20" y2="402.10" stroke="#000" stroke-width="0.9"/>
<line x1="169.60" y1="402.10" x2="172.80" y2="402.10" stroke="#000" stroke-width="0.9"/>
<rect x="168.20" y="405.93" width="6.00" height="31.28" fill="url(#check)" stroke="#000" stroke-width="0.8"/>
<line x1="165.30" y1="437.20" x2="165.30" y2="439.70" stroke="#000" stroke-width="1"/>
<text x="165.90" y="449.40" font-size="8.6" text-anchor="end" transform="rotate(-45 165.90 449.40)">CD11c<tspan font-size="6.2" dy="-3.8">+</tspan></text>
<line x1="47.30" y1="359.30" x2="57.10" y2="359.30" stroke="#000" stroke-width="1.3"/>
<line x1="48.50" y1="364.30" x2="48.50" y2="361.10" stroke="#000" stroke-width="1.4" stroke-linecap="round"/>
<line x1="48.50" y1="364.30" x2="51.54" y2="363.31" stroke="#000" stroke-width="1.4" stroke-linecap="round"/>
<line x1="48.50" y1="364.30" x2="50.38" y2="366.89" stroke="#000" stroke-width="1.4" stroke-linecap="round"/>
<line x1="48.50" y1="364.30" x2="46.62" y2="366.89" stroke="#000" stroke-width="1.4" stroke-linecap="round"/>
<line x1="48.50" y1="364.30" x2="45.46" y2="363.31" stroke="#000" stroke-width="1.4" stroke-linecap="round"/>
<line x1="93.70" y1="390.40" x2="103.00" y2="390.40" stroke="#000" stroke-width="1.3"/>
<text x="100.00" y="386.40" font-size="10" text-anchor="middle">#</text>
<line x1="115.00" y1="386.20" x2="125.00" y2="386.20" stroke="#000" stroke-width="1.3"/>
<line x1="120.20" y1="379.90" x2="120.20" y2="376.90" stroke="#000" stroke-width="1.4" stroke-linecap="round"/>
<line x1="120.20" y1="379.90" x2="123.05" y2="378.97" stroke="#000" stroke-width="1.4" stroke-linecap="round"/>
<line x1="120.20" y1="379.90" x2="121.96" y2="382.33" stroke="#000" stroke-width="1.4" stroke-linecap="round"/>
<line x1="120.20" y1="379.90" x2="118.44" y2="382.33" stroke="#000" stroke-width="1.4" stroke-linecap="round"/>
<line x1="120.20" y1="379.90" x2="117.35" y2="378.97" stroke="#000" stroke-width="1.4" stroke-linecap="round"/>
<rect x="45.40" y="322.30" width="12.60" height="6.80" fill="#fff" stroke="#999" stroke-width="0.9"/>
<text x="59.20" y="328.70" font-size="8.5" text-anchor="start" textLength="53.60" lengthAdjust="spacingAndGlyphs">Sham-infected</text>
<rect x="45.40" y="333.30" width="12.60" height="6.80" fill="url(#hatchL)" stroke="#000" stroke-width="0.9"/>
<text x="59.20" y="339.70" font-size="8.5" text-anchor="start" textLength="73.80" lengthAdjust="spacingAndGlyphs">Infected/control IgG</text>
<rect x="45.40" y="344.20" width="12.60" height="6.80" fill="url(#check)" stroke="#000" stroke-width="0.9"/>
<text x="59.20" y="350.60" font-size="8.5" text-anchor="start" textLength="57.10" lengthAdjust="spacingAndGlyphs">Infected/&#x3B1;IL-10</text>
<text x="9.40" y="395.40" font-size="9" text-anchor="middle" transform="rotate(-90 9.40 395.40)" textLength="80.80" lengthAdjust="spacingAndGlyphs">% Inflammatory cells</text>
<text x="19.50" y="396.40" font-size="9" text-anchor="middle" transform="rotate(-90 19.50 396.40)" textLength="40.40" lengthAdjust="spacingAndGlyphs">in vaginas</text>
<text x="197.60" y="330.20" font-size="17" text-anchor="start" font-weight="bold">h</text>
<line x1="235.90" y1="344.50" x2="235.90" y2="437.40" stroke="#000" stroke-width="1.3"/>
<line x1="235.30" y1="436.80" x2="396.00" y2="436.80" stroke="#000" stroke-width="1.3"/>
<line x1="233.40" y1="436.80" x2="235.90" y2="436.80" stroke="#000" stroke-width="1"/>
<text x="231.50" y="439.70" font-size="8.2" text-anchor="end" font-weight="bold">0</text>
<line x1="233.40" y1="425.30" x2="235.90" y2="425.30" stroke="#000" stroke-width="1"/>
<text x="231.50" y="428.20" font-size="8.2" text-anchor="end" font-weight="bold">1</text>
<line x1="233.40" y1="413.80" x2="235.90" y2="413.80" stroke="#000" stroke-width="1"/>
<text x="231.50" y="416.70" font-size="8.2" text-anchor="end" font-weight="bold">2</text>
<line x1="233.40" y1="402.30" x2="235.90" y2="402.30" stroke="#000" stroke-width="1"/>
<text x="231.50" y="405.20" font-size="8.2" text-anchor="end" font-weight="bold">3</text>
<line x1="233.40" y1="390.80" x2="235.90" y2="390.80" stroke="#000" stroke-width="1"/>
<text x="231.50" y="393.70" font-size="8.2" text-anchor="end" font-weight="bold">4</text>
<line x1="233.40" y1="379.30" x2="235.90" y2="379.30" stroke="#000" stroke-width="1"/>
<text x="231.50" y="382.20" font-size="8.2" text-anchor="end" font-weight="bold">5</text>
<line x1="233.40" y1="367.80" x2="235.90" y2="367.80" stroke="#000" stroke-width="1"/>
<text x="231.50" y="370.70" font-size="8.2" text-anchor="end" font-weight="bold">6</text>
<line x1="233.40" y1="356.30" x2="235.90" y2="356.30" stroke="#000" stroke-width="1"/>
<text x="231.50" y="359.20" font-size="8.2" text-anchor="end" font-weight="bold">7</text>
<line x1="233.40" y1="344.80" x2="235.90" y2="344.80" stroke="#000" stroke-width="1"/>
<text x="231.50" y="347.70" font-size="8.2" text-anchor="end" font-weight="bold">8</text>
<line x1="235.90" y1="436.80" x2="235.90" y2="439.30" stroke="#000" stroke-width="1"/>
<text x="238.80" y="446.70" font-size="8.0" text-anchor="end" font-weight="bold" transform="rotate(-45 238.80 446.70)">0</text>
<line x1="245.77" y1="436.80" x2="245.77" y2="439.30" stroke="#000" stroke-width="1"/>
<text x="248.67" y="446.70" font-size="8.0" text-anchor="end" font-weight="bold" transform="rotate(-45 248.67 446.70)">1</text>
<line x1="255.64" y1="436.80" x2="255.64" y2="439.30" stroke="#000" stroke-width="1"/>
<text x="258.54" y="446.70" font-size="8.0" text-anchor="end" font-weight="bold" transform="rotate(-45 258.54 446.70)">2</text>
<line x1="265.51" y1="436.80" x2="265.51" y2="439.30" stroke="#000" stroke-width="1"/>
<text x="268.41" y="446.70" font-size="8.0" text-anchor="end" font-weight="bold" transform="rotate(-45 268.41 446.70)">3</text>
<line x1="275.38" y1="436.80" x2="275.38" y2="439.30" stroke="#000" stroke-width="1"/>
<text x="278.28" y="446.70" font-size="8.0" text-anchor="end" font-weight="bold" transform="rotate(-45 278.28 446.70)">4</text>
<line x1="285.25" y1="436.80" x2="285.25" y2="439.30" stroke="#000" stroke-width="1"/>
<text x="288.15" y="446.70" font-size="8.0" text-anchor="end" font-weight="bold" transform="rotate(-45 288.15 446.70)">5</text>
<line x1="295.12" y1="436.80" x2="295.12" y2="439.30" stroke="#000" stroke-width="1"/>
<text x="298.02" y="446.70" font-size="8.0" text-anchor="end" font-weight="bold" transform="rotate(-45 298.02 446.70)">6</text>
<line x1="304.99" y1="436.80" x2="304.99" y2="439.30" stroke="#000" stroke-width="1"/>
<text x="307.89" y="446.70" font-size="8.0" text-anchor="end" font-weight="bold" transform="rotate(-45 307.89 446.70)">7</text>
<line x1="314.86" y1="436.80" x2="314.86" y2="439.30" stroke="#000" stroke-width="1"/>
<text x="317.76" y="446.70" font-size="8.0" text-anchor="end" font-weight="bold" transform="rotate(-45 317.76 446.70)">8</text>
<line x1="324.73" y1="436.80" x2="324.73" y2="439.30" stroke="#000" stroke-width="1"/>
<text x="327.63" y="446.70" font-size="8.0" text-anchor="end" font-weight="bold" transform="rotate(-45 327.63 446.70)">9</text>
<line x1="334.60" y1="436.80" x2="334.60" y2="439.30" stroke="#000" stroke-width="1"/>
<text x="337.50" y="446.70" font-size="8.0" text-anchor="end" font-weight="bold" transform="rotate(-45 337.50 446.70)">10</text>
<line x1="344.47" y1="436.80" x2="344.47" y2="439.30" stroke="#000" stroke-width="1"/>
<text x="347.37" y="446.70" font-size="8.0" text-anchor="end" font-weight="bold" transform="rotate(-45 347.37 446.70)">11</text>
<line x1="354.34" y1="436.80" x2="354.34" y2="439.30" stroke="#000" stroke-width="1"/>
<text x="357.24" y="446.70" font-size="8.0" text-anchor="end" font-weight="bold" transform="rotate(-45 357.24 446.70)">12</text>
<line x1="364.21" y1="436.80" x2="364.21" y2="439.30" stroke="#000" stroke-width="1"/>
<text x="367.11" y="446.70" font-size="8.0" text-anchor="end" font-weight="bold" transform="rotate(-45 367.11 446.70)">13</text>
<line x1="374.08" y1="436.80" x2="374.08" y2="439.30" stroke="#000" stroke-width="1"/>
<text x="376.98" y="446.70" font-size="8.0" text-anchor="end" font-weight="bold" transform="rotate(-45 376.98 446.70)">14</text>
<line x1="383.95" y1="436.80" x2="383.95" y2="439.30" stroke="#000" stroke-width="1"/>
<text x="386.85" y="446.70" font-size="8.0" text-anchor="end" font-weight="bold" transform="rotate(-45 386.85 446.70)">15</text>
<line x1="393.82" y1="436.80" x2="393.82" y2="439.30" stroke="#000" stroke-width="1"/>
<text x="396.72" y="446.70" font-size="8.0" text-anchor="end" font-weight="bold" transform="rotate(-45 396.72 446.70)">16</text>
<line x1="245.77" y1="362.28" x2="245.77" y2="349.63" stroke="#000" stroke-width="0.9"/>
<line x1="243.57" y1="349.63" x2="247.97" y2="349.63" stroke="#000" stroke-width="0.9"/>
<line x1="255.64" y1="361.25" x2="255.64" y2="348.94" stroke="#000" stroke-width="0.9"/>
<line x1="253.44" y1="348.94" x2="257.84" y2="348.94" stroke="#000" stroke-width="0.9"/>
<line x1="265.51" y1="368.03" x2="265.51" y2="355.26" stroke="#000" stroke-width="0.9"/>
<line x1="263.31" y1="355.26" x2="267.71" y2="355.26" stroke="#000" stroke-width="0.9"/>
<line x1="275.38" y1="372.86" x2="275.38" y2="360.21" stroke="#000" stroke-width="0.9"/>
<line x1="273.18" y1="360.21" x2="277.58" y2="360.21" stroke="#000" stroke-width="0.9"/>
<line x1="285.25" y1="382.87" x2="285.25" y2="371.37" stroke="#000" stroke-width="0.9"/>
<line x1="283.05" y1="371.37" x2="287.45" y2="371.37" stroke="#000" stroke-width="0.9"/>
<line x1="295.12" y1="384.25" x2="295.12" y2="372.86" stroke="#000" stroke-width="0.9"/>
<line x1="292.92" y1="372.86" x2="297.32" y2="372.86" stroke="#000" stroke-width="0.9"/>
<line x1="304.99" y1="393.44" x2="304.99" y2="384.59" stroke="#000" stroke-width="0.9"/>
<line x1="302.79" y1="384.59" x2="307.19" y2="384.59" stroke="#000" stroke-width="0.9"/>
<line x1="314.86" y1="390.34" x2="314.86" y2="379.76" stroke="#000" stroke-width="0.9"/>
<line x1="312.66" y1="379.76" x2="317.06" y2="379.76" stroke="#000" stroke-width="0.9"/>
<line x1="324.73" y1="391.03" x2="324.73" y2="379.76" stroke="#000" stroke-width="0.9"/>
<line x1="322.53" y1="379.76" x2="326.93" y2="379.76" stroke="#000" stroke-width="0.9"/>
<line x1="334.60" y1="398.16" x2="334.60" y2="387.35" stroke="#000" stroke-width="0.9"/>
<line x1="332.40" y1="387.35" x2="336.80" y2="387.35" stroke="#000" stroke-width="0.9"/>
<line x1="344.47" y1="406.56" x2="344.47" y2="397.01" stroke="#000" stroke-width="0.9"/>
<line x1="342.27" y1="397.01" x2="346.67" y2="397.01" stroke="#000" stroke-width="0.9"/>
<line x1="354.34" y1="421.28" x2="354.34" y2="416.45" stroke="#000" stroke-width="0.9"/>
<line x1="352.14" y1="416.45" x2="356.54" y2="416.45" stroke="#000" stroke-width="0.9"/>
<line x1="245.77" y1="365.85" x2="245.77" y2="356.65" stroke="#000" stroke-width="0.9"/>
<line x1="243.57" y1="356.65" x2="247.97" y2="356.65" stroke="#000" stroke-width="0.9"/>
<line x1="265.51" y1="381.94" x2="265.51" y2="372.86" stroke="#000" stroke-width="0.9"/>
<line x1="263.31" y1="372.86" x2="267.71" y2="372.86" stroke="#000" stroke-width="0.9"/>
<line x1="275.38" y1="403.34" x2="275.38" y2="396.32" stroke="#000" stroke-width="0.9"/>
<line x1="273.18" y1="396.32" x2="277.58" y2="396.32" stroke="#000" stroke-width="0.9"/>
<line x1="285.25" y1="412.65" x2="285.25" y2="405.41" stroke="#000" stroke-width="0.9"/>
<line x1="283.05" y1="405.41" x2="287.45" y2="405.41" stroke="#000" stroke-width="0.9"/>
<line x1="295.12" y1="421.05" x2="295.12" y2="415.41" stroke="#000" stroke-width="0.9"/>
<line x1="292.92" y1="415.41" x2="297.32" y2="415.41" stroke="#000" stroke-width="0.9"/>
<polyline points="245.77,365.85 255.64,372.29 265.51,381.94 275.38,403.34 285.25,412.65 295.12,421.05 304.99,433.00 314.86,433.81 324.73,436.57 334.60,436.80 344.47,436.80 354.34,436.80 364.21,436.80 374.08,436.80 383.95,436.80 393.82,436.80" fill="none" stroke="#000" stroke-width="0.9" stroke-linejoin="round" stroke-dasharray="2.2,1.3"/>
<polyline points="245.77,362.28 255.64,361.25 265.51,368.03 275.38,372.86 285.25,382.87 295.12,384.25 304.99,393.44 314.86,390.34 324.73,391.03 334.60,398.16 344.47,406.56 354.34,421.28 364.21,433.00 374.08,436.80 383.95,436.80 393.82,436.80" fill="none" stroke="#000" stroke-width="1.3" stroke-linejoin="round"/>
<rect x="244.17" y="364.25" width="3.20" height="3.20" fill="none" stroke="#000" stroke-width="0.9"/>
<rect x="254.04" y="370.69" width="3.20" height="3.20" fill="none" stroke="#000" stroke-width="0.9"/>
<rect x="263.91" y="380.34" width="3.20" height="3.20" fill="none" stroke="#000" stroke-width="0.9"/>
<rect x="273.78" y="401.74" width="3.20" height="3.20" fill="none" stroke="#000" stroke-width="0.9"/>
<rect x="283.65" y="411.05" width="3.20" height="3.20" fill="none" stroke="#000" stroke-width="0.9"/>
<rect x="293.52" y="419.44" width="3.20" height="3.20" fill="none" stroke="#000" stroke-width="0.9"/>
<rect x="303.39" y="431.40" width="3.20" height="3.20" fill="none" stroke="#000" stroke-width="0.9"/>
<rect x="313.26" y="432.21" width="3.20" height="3.20" fill="none" stroke="#000" stroke-width="0.9"/>
<rect x="323.13" y="434.97" width="3.20" height="3.20" fill="none" stroke="#000" stroke-width="0.9"/>
<rect x="333.00" y="435.20" width="3.20" height="3.20" fill="none" stroke="#000" stroke-width="0.9"/>
<rect x="342.87" y="435.20" width="3.20" height="3.20" fill="none" stroke="#000" stroke-width="0.9"/>
<rect x="352.74" y="435.20" width="3.20" height="3.20" fill="none" stroke="#000" stroke-width="0.9"/>
<rect x="362.61" y="435.20" width="3.20" height="3.20" fill="none" stroke="#000" stroke-width="0.9"/>
<rect x="372.48" y="435.20" width="3.20" height="3.20" fill="none" stroke="#000" stroke-width="0.9"/>
<rect x="382.35" y="435.20" width="3.20" height="3.20" fill="none" stroke="#000" stroke-width="0.9"/>
<rect x="392.22" y="435.20" width="3.20" height="3.20" fill="none" stroke="#000" stroke-width="0.9"/>
<circle cx="245.77" cy="362.28" r="2.4" fill="#000"/>
<circle cx="255.64" cy="361.25" r="2.4" fill="#000"/>
<circle cx="265.51" cy="368.03" r="2.4" fill="#000"/>
<circle cx="275.38" cy="372.86" r="2.4" fill="#000"/>
<circle cx="285.25" cy="382.87" r="2.4" fill="#000"/>
<circle cx="295.12" cy="384.25" r="2.4" fill="#000"/>
<circle cx="304.99" cy="393.44" r="2.4" fill="#000"/>
<circle cx="314.86" cy="390.34" r="2.4" fill="#000"/>
<circle cx="324.73" cy="391.03" r="2.4" fill="#000"/>
<circle cx="334.60" cy="398.16" r="2.4" fill="#000"/>
<circle cx="344.47" cy="406.56" r="2.4" fill="#000"/>
<circle cx="354.34" cy="421.28" r="2.4" fill="#000"/>
<circle cx="364.21" cy="433.00" r="2.4" fill="#000"/>
<circle cx="374.08" cy="436.80" r="2.4" fill="#000"/>
<circle cx="383.95" cy="436.80" r="2.4" fill="#000"/>
<circle cx="393.82" cy="436.80" r="2.4" fill="#000"/>
<line x1="240.90" y1="324.60" x2="254.30" y2="324.60" stroke="#000" stroke-width="1.0"/>
<circle cx="247.60" cy="324.60" r="2.5" fill="#000"/>
<text x="256.10" y="328.00" font-size="9.3" text-anchor="start" textLength="95.30" lengthAdjust="spacingAndGlyphs">Infected wild-type mice</text>
<line x1="240.90" y1="338.60" x2="254.30" y2="338.60" stroke="#000" stroke-width="0.9" stroke-dasharray="2.2,1.3"/>
<rect x="246.10" y="337.10" width="3.00" height="3.00" fill="none" stroke="#000" stroke-width="0.9"/>
<text x="256.10" y="342.10" font-size="9.3" text-anchor="start">Infected IL-10<tspan font-size="6.3" dy="-3.8">KO</tspan></text>
<text x="315.00" y="463.60" font-size="9.4" text-anchor="middle" textLength="91.40" lengthAdjust="spacingAndGlyphs">Days after inoculation</text>
<text x="203.50" y="390.00" font-size="9.8" text-anchor="middle" transform="rotate(-90 203.50 390.00)" textLength="84.00" lengthAdjust="spacingAndGlyphs">Recovered colonies</text>
<text x="218.20" y="389.30" font-size="9.6" text-anchor="middle" transform="rotate(-90 218.20 389.30)">of Ngo (&#x00D7;10<tspan font-size="6.5" dy="-3.8">5</tspan><tspan dy="3.8">)</tspan></text>
<text x="418.40" y="328.90" font-size="17" text-anchor="start" font-weight="bold">i</text>
<line x1="456.60" y1="339.30" x2="456.60" y2="438.10" stroke="#000" stroke-width="1.3"/>
<line x1="456.00" y1="437.50" x2="624.00" y2="437.50" stroke="#000" stroke-width="1.3"/>
<line x1="454.10" y1="437.50" x2="456.60" y2="437.50" stroke="#000" stroke-width="1"/>
<text x="452.00" y="440.40" font-size="8.2" text-anchor="end" font-weight="bold">0</text>
<line x1="454.10" y1="423.67" x2="456.60" y2="423.67" stroke="#000" stroke-width="1"/>
<text x="452.00" y="426.57" font-size="8.2" text-anchor="end" font-weight="bold">1</text>
<line x1="454.10" y1="409.84" x2="456.60" y2="409.84" stroke="#000" stroke-width="1"/>
<text x="452.00" y="412.74" font-size="8.2" text-anchor="end" font-weight="bold">2</text>
<line x1="454.10" y1="396.01" x2="456.60" y2="396.01" stroke="#000" stroke-width="1"/>
<text x="452.00" y="398.91" font-size="8.2" text-anchor="end" font-weight="bold">3</text>
<line x1="454.10" y1="382.18" x2="456.60" y2="382.18" stroke="#000" stroke-width="1"/>
<text x="452.00" y="385.08" font-size="8.2" text-anchor="end" font-weight="bold">4</text>
<line x1="454.10" y1="368.35" x2="456.60" y2="368.35" stroke="#000" stroke-width="1"/>
<text x="452.00" y="371.25" font-size="8.2" text-anchor="end" font-weight="bold">5</text>
<line x1="454.10" y1="354.52" x2="456.60" y2="354.52" stroke="#000" stroke-width="1"/>
<text x="452.00" y="357.42" font-size="8.2" text-anchor="end" font-weight="bold">6</text>
<line x1="454.10" y1="340.69" x2="456.60" y2="340.69" stroke="#000" stroke-width="1"/>
<text x="452.00" y="343.59" font-size="8.2" text-anchor="end" font-weight="bold">7</text>
<line x1="456.60" y1="437.50" x2="456.60" y2="440.00" stroke="#000" stroke-width="1"/>
<text x="459.50" y="447.40" font-size="8.0" text-anchor="end" font-weight="bold" transform="rotate(-45 459.50 447.40)">0</text>
<line x1="465.76" y1="437.50" x2="465.76" y2="440.00" stroke="#000" stroke-width="1"/>
<text x="468.66" y="447.40" font-size="8.0" text-anchor="end" font-weight="bold" transform="rotate(-45 468.66 447.40)">1</text>
<line x1="474.92" y1="437.50" x2="474.92" y2="440.00" stroke="#000" stroke-width="1"/>
<text x="477.82" y="447.40" font-size="8.0" text-anchor="end" font-weight="bold" transform="rotate(-45 477.82 447.40)">2</text>
<line x1="484.08" y1="437.50" x2="484.08" y2="440.00" stroke="#000" stroke-width="1"/>
<text x="486.98" y="447.40" font-size="8.0" text-anchor="end" font-weight="bold" transform="rotate(-45 486.98 447.40)">3</text>
<line x1="493.24" y1="437.50" x2="493.24" y2="440.00" stroke="#000" stroke-width="1"/>
<text x="496.14" y="447.40" font-size="8.0" text-anchor="end" font-weight="bold" transform="rotate(-45 496.14 447.40)">4</text>
<line x1="502.40" y1="437.50" x2="502.40" y2="440.00" stroke="#000" stroke-width="1"/>
<text x="505.30" y="447.40" font-size="8.0" text-anchor="end" font-weight="bold" transform="rotate(-45 505.30 447.40)">5</text>
<line x1="511.56" y1="437.50" x2="511.56" y2="440.00" stroke="#000" stroke-width="1"/>
<text x="514.46" y="447.40" font-size="8.0" text-anchor="end" font-weight="bold" transform="rotate(-45 514.46 447.40)">6</text>
<line x1="520.72" y1="437.50" x2="520.72" y2="440.00" stroke="#000" stroke-width="1"/>
<text x="523.62" y="447.40" font-size="8.0" text-anchor="end" font-weight="bold" transform="rotate(-45 523.62 447.40)">7</text>
<line x1="529.88" y1="437.50" x2="529.88" y2="440.00" stroke="#000" stroke-width="1"/>
<text x="532.78" y="447.40" font-size="8.0" text-anchor="end" font-weight="bold" transform="rotate(-45 532.78 447.40)">8</text>
<line x1="539.04" y1="437.50" x2="539.04" y2="440.00" stroke="#000" stroke-width="1"/>
<text x="541.94" y="447.40" font-size="8.0" text-anchor="end" font-weight="bold" transform="rotate(-45 541.94 447.40)">9</text>
<line x1="548.20" y1="437.50" x2="548.20" y2="440.00" stroke="#000" stroke-width="1"/>
<text x="551.10" y="447.40" font-size="8.0" text-anchor="end" font-weight="bold" transform="rotate(-45 551.10 447.40)">10</text>
<line x1="557.36" y1="437.50" x2="557.36" y2="440.00" stroke="#000" stroke-width="1"/>
<text x="560.26" y="447.40" font-size="8.0" text-anchor="end" font-weight="bold" transform="rotate(-45 560.26 447.40)">11</text>
<line x1="566.52" y1="437.50" x2="566.52" y2="440.00" stroke="#000" stroke-width="1"/>
<text x="569.42" y="447.40" font-size="8.0" text-anchor="end" font-weight="bold" transform="rotate(-45 569.42 447.40)">12</text>
<line x1="575.68" y1="437.50" x2="575.68" y2="440.00" stroke="#000" stroke-width="1"/>
<text x="578.58" y="447.40" font-size="8.0" text-anchor="end" font-weight="bold" transform="rotate(-45 578.58 447.40)">13</text>
<line x1="584.84" y1="437.50" x2="584.84" y2="440.00" stroke="#000" stroke-width="1"/>
<text x="587.74" y="447.40" font-size="8.0" text-anchor="end" font-weight="bold" transform="rotate(-45 587.74 447.40)">14</text>
<line x1="594.00" y1="437.50" x2="594.00" y2="440.00" stroke="#000" stroke-width="1"/>
<text x="596.90" y="447.40" font-size="8.0" text-anchor="end" font-weight="bold" transform="rotate(-45 596.90 447.40)">15</text>
<line x1="603.16" y1="437.50" x2="603.16" y2="440.00" stroke="#000" stroke-width="1"/>
<text x="606.06" y="447.40" font-size="8.0" text-anchor="end" font-weight="bold" transform="rotate(-45 606.06 447.40)">16</text>
<line x1="612.32" y1="437.50" x2="612.32" y2="440.00" stroke="#000" stroke-width="1"/>
<text x="615.22" y="447.40" font-size="8.0" text-anchor="end" font-weight="bold" transform="rotate(-45 615.22 447.40)">17</text>
<line x1="621.48" y1="437.50" x2="621.48" y2="440.00" stroke="#000" stroke-width="1"/>
<text x="624.38" y="447.40" font-size="8.0" text-anchor="end" font-weight="bold" transform="rotate(-45 624.38 447.40)">18</text>
<line x1="465.76" y1="366.14" x2="465.76" y2="355.49" stroke="#000" stroke-width="0.9"/>
<line x1="463.76" y1="355.49" x2="467.76" y2="355.49" stroke="#000" stroke-width="0.9"/>
<line x1="474.92" y1="364.62" x2="474.92" y2="353.28" stroke="#000" stroke-width="0.9"/>
<line x1="472.92" y1="353.28" x2="476.92" y2="353.28" stroke="#000" stroke-width="0.9"/>
<line x1="484.08" y1="365.72" x2="484.08" y2="355.49" stroke="#000" stroke-width="0.9"/>
<line x1="482.08" y1="355.49" x2="486.08" y2="355.49" stroke="#000" stroke-width="0.9"/>
<line x1="493.24" y1="365.03" x2="493.24" y2="355.49" stroke="#000" stroke-width="0.9"/>
<line x1="491.24" y1="355.49" x2="495.24" y2="355.49" stroke="#000" stroke-width="0.9"/>
<line x1="502.40" y1="364.06" x2="502.40" y2="355.63" stroke="#000" stroke-width="0.9"/>
<line x1="500.40" y1="355.63" x2="504.40" y2="355.63" stroke="#000" stroke-width="0.9"/>
<line x1="511.56" y1="367.94" x2="511.56" y2="359.50" stroke="#000" stroke-width="0.9"/>
<line x1="509.56" y1="359.50" x2="513.56" y2="359.50" stroke="#000" stroke-width="0.9"/>
<line x1="520.72" y1="362.82" x2="520.72" y2="352.86" stroke="#000" stroke-width="0.9"/>
<line x1="518.72" y1="352.86" x2="522.72" y2="352.86" stroke="#000" stroke-width="0.9"/>
<line x1="529.88" y1="358.95" x2="529.88" y2="350.09" stroke="#000" stroke-width="0.9"/>
<line x1="527.88" y1="350.09" x2="531.88" y2="350.09" stroke="#000" stroke-width="0.9"/>
<line x1="539.04" y1="364.06" x2="539.04" y2="356.18" stroke="#000" stroke-width="0.9"/>
<line x1="537.04" y1="356.18" x2="541.04" y2="356.18" stroke="#000" stroke-width="0.9"/>
<line x1="548.20" y1="370.56" x2="548.20" y2="363.51" stroke="#000" stroke-width="0.9"/>
<line x1="546.20" y1="363.51" x2="550.20" y2="363.51" stroke="#000" stroke-width="0.9"/>
<line x1="557.36" y1="371.12" x2="557.36" y2="362.82" stroke="#000" stroke-width="0.9"/>
<line x1="555.36" y1="362.82" x2="559.36" y2="362.82" stroke="#000" stroke-width="0.9"/>
<line x1="566.52" y1="380.66" x2="566.52" y2="370.56" stroke="#000" stroke-width="0.9"/>
<line x1="564.52" y1="370.56" x2="568.52" y2="370.56" stroke="#000" stroke-width="0.9"/>
<line x1="575.68" y1="391.86" x2="575.68" y2="382.87" stroke="#000" stroke-width="0.9"/>
<line x1="573.68" y1="382.87" x2="577.68" y2="382.87" stroke="#000" stroke-width="0.9"/>
<line x1="584.84" y1="408.04" x2="584.84" y2="400.71" stroke="#000" stroke-width="0.9"/>
<line x1="582.84" y1="400.71" x2="586.84" y2="400.71" stroke="#000" stroke-width="0.9"/>
<line x1="594.00" y1="419.66" x2="594.00" y2="413.02" stroke="#000" stroke-width="0.9"/>
<line x1="592.00" y1="413.02" x2="596.00" y2="413.02" stroke="#000" stroke-width="0.9"/>
<line x1="603.16" y1="429.76" x2="603.16" y2="426.30" stroke="#000" stroke-width="0.9"/>
<line x1="601.16" y1="426.30" x2="605.16" y2="426.30" stroke="#000" stroke-width="0.9"/>
<line x1="465.76" y1="376.23" x2="465.76" y2="385.91" stroke="#000" stroke-width="0.9"/>
<line x1="463.76" y1="385.91" x2="467.76" y2="385.91" stroke="#000" stroke-width="0.9"/>
<line x1="474.92" y1="376.23" x2="474.92" y2="380.38" stroke="#000" stroke-width="0.9"/>
<line x1="472.92" y1="380.38" x2="476.92" y2="380.38" stroke="#000" stroke-width="0.9"/>
<line x1="484.08" y1="377.75" x2="484.08" y2="383.29" stroke="#000" stroke-width="0.9"/>
<line x1="482.08" y1="383.29" x2="486.08" y2="383.29" stroke="#000" stroke-width="0.9"/>
<line x1="493.24" y1="381.35" x2="493.24" y2="389.65" stroke="#000" stroke-width="0.9"/>
<line x1="491.24" y1="389.65" x2="495.24" y2="389.65" stroke="#000" stroke-width="0.9"/>
<line x1="502.40" y1="390.20" x2="502.40" y2="399.88" stroke="#000" stroke-width="0.9"/>
<line x1="500.40" y1="399.88" x2="504.40" y2="399.88" stroke="#000" stroke-width="0.9"/>
<line x1="511.56" y1="390.20" x2="511.56" y2="397.81" stroke="#000" stroke-width="0.9"/>
<line x1="509.56" y1="397.81" x2="513.56" y2="397.81" stroke="#000" stroke-width="0.9"/>
<line x1="520.72" y1="395.04" x2="520.72" y2="403.34" stroke="#000" stroke-width="0.9"/>
<line x1="518.72" y1="403.34" x2="522.72" y2="403.34" stroke="#000" stroke-width="0.9"/>
<line x1="529.88" y1="398.50" x2="529.88" y2="406.80" stroke="#000" stroke-width="0.9"/>
<line x1="527.88" y1="406.80" x2="531.88" y2="406.80" stroke="#000" stroke-width="0.9"/>
<line x1="539.04" y1="400.71" x2="539.04" y2="404.17" stroke="#000" stroke-width="0.9"/>
<line x1="537.04" y1="404.17" x2="541.04" y2="404.17" stroke="#000" stroke-width="0.9"/>
<line x1="548.20" y1="404.03" x2="548.20" y2="406.80" stroke="#000" stroke-width="0.9"/>
<line x1="546.20" y1="406.80" x2="550.20" y2="406.80" stroke="#000" stroke-width="0.9"/>
<line x1="557.36" y1="411.91" x2="557.36" y2="414.68" stroke="#000" stroke-width="0.9"/>
<line x1="555.36" y1="414.68" x2="559.36" y2="414.68" stroke="#000" stroke-width="0.9"/>
<line x1="566.52" y1="413.02" x2="566.52" y2="415.79" stroke="#000" stroke-width="0.9"/>
<line x1="564.52" y1="415.79" x2="568.52" y2="415.79" stroke="#000" stroke-width="0.9"/>
<line x1="575.68" y1="417.86" x2="575.68" y2="424.08" stroke="#000" stroke-width="0.9"/>
<line x1="573.68" y1="424.08" x2="577.68" y2="424.08" stroke="#000" stroke-width="0.9"/>
<line x1="584.84" y1="427.40" x2="584.84" y2="431.55" stroke="#000" stroke-width="0.9"/>
<line x1="582.84" y1="431.55" x2="586.84" y2="431.55" stroke="#000" stroke-width="0.9"/>
<line x1="465.76" y1="374.71" x2="465.76" y2="371.95" stroke="#000" stroke-width="0.9"/>
<line x1="463.76" y1="371.95" x2="467.76" y2="371.95" stroke="#000" stroke-width="0.9"/>
<line x1="474.92" y1="371.12" x2="474.92" y2="366.97" stroke="#000" stroke-width="0.9"/>
<line x1="472.92" y1="366.97" x2="476.92" y2="366.97" stroke="#000" stroke-width="0.9"/>
<line x1="484.08" y1="374.71" x2="484.08" y2="369.87" stroke="#000" stroke-width="0.9"/>
<line x1="482.08" y1="369.87" x2="486.08" y2="369.87" stroke="#000" stroke-width="0.9"/>
<line x1="493.24" y1="377.75" x2="493.24" y2="373.61" stroke="#000" stroke-width="0.9"/>
<line x1="491.24" y1="373.61" x2="495.24" y2="373.61" stroke="#000" stroke-width="0.9"/>
<line x1="502.40" y1="388.54" x2="502.40" y2="384.39" stroke="#000" stroke-width="0.9"/>
<line x1="500.40" y1="384.39" x2="504.40" y2="384.39" stroke="#000" stroke-width="0.9"/>
<line x1="511.56" y1="395.04" x2="511.56" y2="405.00" stroke="#000" stroke-width="0.9"/>
<line x1="509.56" y1="405.00" x2="513.56" y2="405.00" stroke="#000" stroke-width="0.9"/>
<line x1="520.72" y1="399.61" x2="520.72" y2="408.46" stroke="#000" stroke-width="0.9"/>
<line x1="518.72" y1="408.46" x2="522.72" y2="408.46" stroke="#000" stroke-width="0.9"/>
<polyline points="465.76,366.14 474.92,364.62 484.08,365.72 493.24,365.03 502.40,364.06 511.56,367.94 520.72,362.82 529.88,358.95 539.04,364.06 548.20,370.56 557.36,371.12 566.52,380.66 575.68,391.86 584.84,408.04 594.00,419.66 603.16,429.76 612.32,435.15 621.48,437.50" fill="none" stroke="#000" stroke-width="0.9" stroke-linejoin="round" stroke-dasharray="2.2,1.3"/>
<polyline points="465.76,374.71 474.92,371.12 484.08,374.71 493.24,377.75 502.40,388.54 511.56,395.04 520.72,399.61 529.88,395.04 539.04,395.04 548.20,399.61 557.36,406.24 566.52,407.35 575.68,414.13 584.84,420.07 594.00,427.40 603.16,432.94 612.32,435.15 621.48,437.50" fill="none" stroke="#000" stroke-width="0.9" stroke-linejoin="round"/>
<polyline points="465.76,376.23 474.92,376.23 484.08,377.75 493.24,381.35 502.40,390.20 511.56,390.20 520.72,395.04 529.88,398.50 539.04,400.71 548.20,404.03 557.36,411.91 566.52,413.02 575.68,417.86 584.84,427.40 594.00,431.97 603.16,436.39 612.32,436.95 621.48,437.50" fill="none" stroke="#000" stroke-width="1.1" stroke-linejoin="round"/>
<rect x="463.91" y="364.29" width="3.70" height="3.70" fill="none" stroke="#000" stroke-width="0.9"/>
<rect x="473.07" y="362.77" width="3.70" height="3.70" fill="none" stroke="#000" stroke-width="0.9"/>
<rect x="482.23" y="363.87" width="3.70" height="3.70" fill="none" stroke="#000" stroke-width="0.9"/>
<rect x="491.39" y="363.18" width="3.70" height="3.70" fill="none" stroke="#000" stroke-width="0.9"/>
<rect x="500.55" y="362.21" width="3.70" height="3.70" fill="none" stroke="#000" stroke-width="0.9"/>
<rect x="509.71" y="366.09" width="3.70" height="3.70" fill="none" stroke="#000" stroke-width="0.9"/>
<rect x="518.87" y="360.97" width="3.70" height="3.70" fill="none" stroke="#000" stroke-width="0.9"/>
<rect x="528.03" y="357.10" width="3.70" height="3.70" fill="none" stroke="#000" stroke-width="0.9"/>
<rect x="537.19" y="362.21" width="3.70" height="3.70" fill="none" stroke="#000" stroke-width="0.9"/>
<rect x="546.35" y="368.71" width="3.70" height="3.70" fill="none" stroke="#000" stroke-width="0.9"/>
<rect x="555.51" y="369.27" width="3.70" height="3.70" fill="none" stroke="#000" stroke-width="0.9"/>
<rect x="564.67" y="378.81" width="3.70" height="3.70" fill="none" stroke="#000" stroke-width="0.9"/>
<rect x="573.83" y="390.01" width="3.70" height="3.70" fill="none" stroke="#000" stroke-width="0.9"/>
<rect x="582.99" y="406.19" width="3.70" height="3.70" fill="none" stroke="#000" stroke-width="0.9"/>
<rect x="592.15" y="417.81" width="3.70" height="3.70" fill="none" stroke="#000" stroke-width="0.9"/>
<rect x="601.31" y="427.91" width="3.70" height="3.70" fill="none" stroke="#000" stroke-width="0.9"/>
<rect x="610.47" y="433.30" width="3.70" height="3.70" fill="none" stroke="#000" stroke-width="0.9"/>
<rect x="619.63" y="435.65" width="3.70" height="3.70" fill="none" stroke="#000" stroke-width="0.9"/>
<circle cx="465.76" cy="376.23" r="2.1" fill="#000"/>
<circle cx="474.92" cy="376.23" r="2.1" fill="#000"/>
<circle cx="484.08" cy="377.75" r="2.1" fill="#000"/>
<circle cx="493.24" cy="381.35" r="2.1" fill="#000"/>
<circle cx="502.40" cy="390.20" r="2.1" fill="#000"/>
<circle cx="511.56" cy="390.20" r="2.1" fill="#000"/>
<circle cx="520.72" cy="395.04" r="2.1" fill="#000"/>
<circle cx="529.88" cy="398.50" r="2.1" fill="#000"/>
<circle cx="539.04" cy="400.71" r="2.1" fill="#000"/>
<circle cx="548.20" cy="404.03" r="2.1" fill="#000"/>
<circle cx="557.36" cy="411.91" r="2.1" fill="#000"/>
<circle cx="566.52" cy="413.02" r="2.1" fill="#000"/>
<circle cx="575.68" cy="417.86" r="2.1" fill="#000"/>
<circle cx="584.84" cy="427.40" r="2.1" fill="#000"/>
<circle cx="594.00" cy="431.97" r="2.1" fill="#000"/>
<circle cx="603.16" cy="436.39" r="2.1" fill="#000"/>
<circle cx="612.32" cy="436.95" r="2.1" fill="#000"/>
<circle cx="621.48" cy="437.50" r="2.1" fill="#000"/>
<circle cx="465.76" cy="374.71" r="2.2" fill="none" stroke="#000" stroke-width="0.9"/>
<circle cx="474.92" cy="371.12" r="2.2" fill="none" stroke="#000" stroke-width="0.9"/>
<circle cx="484.08" cy="374.71" r="2.2" fill="none" stroke="#000" stroke-width="0.9"/>
<circle cx="493.24" cy="377.75" r="2.2" fill="none" stroke="#000" stroke-width="0.9"/>
<circle cx="502.40" cy="388.54" r="2.2" fill="none" stroke="#000" stroke-width="0.9"/>
<circle cx="511.56" cy="395.04" r="2.2" fill="none" stroke="#000" stroke-width="0.9"/>
<circle cx="520.72" cy="399.61" r="2.2" fill="none" stroke="#000" stroke-width="0.9"/>
<circle cx="529.88" cy="395.04" r="2.2" fill="none" stroke="#000" stroke-width="0.9"/>
<circle cx="539.04" cy="395.04" r="2.2" fill="none" stroke="#000" stroke-width="0.9"/>
<circle cx="548.20" cy="399.61" r="2.2" fill="none" stroke="#000" stroke-width="0.9"/>
<circle cx="557.36" cy="406.24" r="2.2" fill="none" stroke="#000" stroke-width="0.9"/>
<circle cx="566.52" cy="407.35" r="2.2" fill="none" stroke="#000" stroke-width="0.9"/>
<circle cx="575.68" cy="414.13" r="2.2" fill="none" stroke="#000" stroke-width="0.9"/>
<circle cx="584.84" cy="420.07" r="2.2" fill="none" stroke="#000" stroke-width="0.9"/>
<circle cx="594.00" cy="427.40" r="2.2" fill="none" stroke="#000" stroke-width="0.9"/>
<circle cx="603.16" cy="432.94" r="2.2" fill="none" stroke="#000" stroke-width="0.9"/>
<circle cx="612.32" cy="435.15" r="2.2" fill="none" stroke="#000" stroke-width="0.9"/>
<circle cx="621.48" cy="437.50" r="2.2" fill="none" stroke="#000" stroke-width="0.9"/>
<line x1="464.30" y1="321.30" x2="476.70" y2="321.30" stroke="#000" stroke-width="1.0"/>
<circle cx="470.80" cy="321.30" r="1.8" fill="#000"/>
<text x="479.10" y="324.40" font-size="8.9" text-anchor="start" textLength="102.20" lengthAdjust="spacingAndGlyphs">Control CD4 T cell-treated</text>
<line x1="464.30" y1="332.60" x2="476.70" y2="332.60" stroke="#000" stroke-width="1.0" stroke-dasharray="2.2,1.3"/>
<circle cx="470.80" cy="332.60" r="1.7" fill="none" stroke="#000" stroke-width="0.9"/>
<text x="479.10" y="335.70" font-size="8.9" text-anchor="start" textLength="98.50" lengthAdjust="spacingAndGlyphs">IL10-induced Tr1-treated</text>
<line x1="464.30" y1="343.50" x2="476.70" y2="343.50" stroke="#000" stroke-width="1.0" stroke-dasharray="2.2,1.3"/>
<rect x="469.30" y="342.00" width="3.00" height="3.00" fill="none" stroke="#000" stroke-width="0.9"/>
<text x="479.10" y="346.60" font-size="8.9" text-anchor="start" textLength="95.60" lengthAdjust="spacingAndGlyphs">Ngo-induced Tr1-treated</text>
<text x="541.60" y="465.30" font-size="9.2" text-anchor="middle" textLength="88.10" lengthAdjust="spacingAndGlyphs">Days after inoculation</text>
<text x="427.00" y="387.60" font-size="9.5" text-anchor="middle" transform="rotate(-90 427.00 387.60)" textLength="82.00" lengthAdjust="spacingAndGlyphs">Recovered colonies</text>
<text x="439.80" y="386.40" font-size="9.5" text-anchor="middle" transform="rotate(-90 439.80 386.40)">of Ngo (&#x00D7;10<tspan font-size="6.5" dy="-3.8">5</tspan><tspan dy="3.8">)</tspan></text>
</svg></body></html>
